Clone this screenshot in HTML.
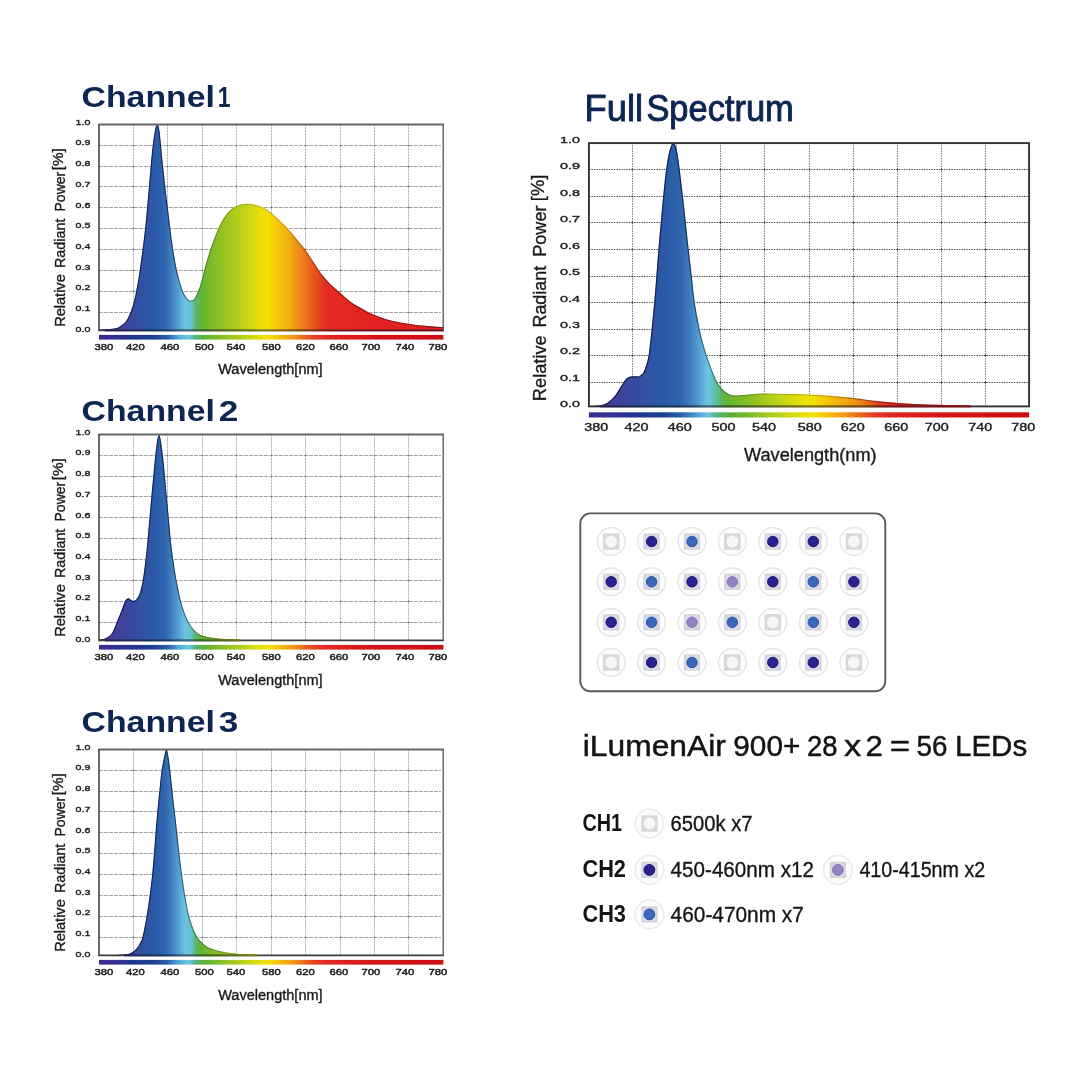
<!DOCTYPE html>
<html lang="en">
<head>
<meta charset="utf-8">
<title>iLumenAir 900+ Spectrum</title>
<style>
html,body{margin:0;padding:0;background:#fff;}
body{width:1079px;height:1079px;overflow:hidden;position:relative;font-family:"Liberation Sans", sans-serif;}
svg{position:absolute;left:0;top:0;display:block;will-change:transform;}
svg text{font-family:"Liberation Sans", sans-serif;}
</style>
</head>
<body>
<svg width="1079" height="1079" viewBox="0 0 1079 1079">
<defs>
<linearGradient id="o1" gradientUnits="userSpaceOnUse" x1="99" y1="0" x2="443.4" y2="0"><stop offset="0" stop-color="#00001c" stop-opacity="0.62"/><stop offset="0.22" stop-color="#00001c" stop-opacity="0.6"/><stop offset="0.29" stop-color="#001018" stop-opacity="0.34"/><stop offset="0.4" stop-color="#101000" stop-opacity="0.2"/><stop offset="0.54" stop-color="#181000" stop-opacity="0.2"/><stop offset="0.64" stop-color="#200000" stop-opacity="0.42"/><stop offset="1" stop-color="#200000" stop-opacity="0.48"/></linearGradient>
<linearGradient id="g1" gradientUnits="userSpaceOnUse" x1="99" y1="0" x2="443.4" y2="0"><stop offset="0" stop-color="#473a92"/><stop offset="0.05" stop-color="#41409b"/><stop offset="0.09" stop-color="#39479f"/><stop offset="0.12" stop-color="#3251a2"/><stop offset="0.16" stop-color="#2a59a7"/><stop offset="0.19" stop-color="#2f64ae"/><stop offset="0.21" stop-color="#3f7dbf"/><stop offset="0.23" stop-color="#539fd3"/><stop offset="0.25" stop-color="#6cc3e4"/><stop offset="0.27" stop-color="#63c3c4"/><stop offset="0.28" stop-color="#58b86a"/><stop offset="0.3" stop-color="#62b432"/><stop offset="0.32" stop-color="#76ba29"/><stop offset="0.35" stop-color="#8cc024"/><stop offset="0.4" stop-color="#b0cd1c"/><stop offset="0.44" stop-color="#cfd914"/><stop offset="0.47" stop-color="#ebe00a"/><stop offset="0.49" stop-color="#f5e105"/><stop offset="0.52" stop-color="#f5c50a"/><stop offset="0.55" stop-color="#f2b00e"/><stop offset="0.57" stop-color="#ee9914"/><stop offset="0.59" stop-color="#eb8018"/><stop offset="0.61" stop-color="#e8661c"/><stop offset="0.64" stop-color="#e5421f"/><stop offset="0.66" stop-color="#e42a22"/><stop offset="0.8" stop-color="#e22222"/><stop offset="1" stop-color="#df2020"/></linearGradient>
<linearGradient id="b1" gradientUnits="userSpaceOnUse" x1="99" y1="0" x2="443.4" y2="0"><stop offset="0" stop-color="#3c2b8e"/><stop offset="0.05" stop-color="#313092"/><stop offset="0.1" stop-color="#213590"/><stop offset="0.16" stop-color="#1b4193"/><stop offset="0.2" stop-color="#2a60ac"/><stop offset="0.23" stop-color="#52a4d6"/><stop offset="0.26" stop-color="#6cc6e2"/><stop offset="0.28" stop-color="#52b584"/><stop offset="0.3" stop-color="#58b034"/><stop offset="0.34" stop-color="#78ba28"/><stop offset="0.4" stop-color="#aaca1e"/><stop offset="0.46" stop-color="#dcdc10"/><stop offset="0.49" stop-color="#f4e208"/><stop offset="0.52" stop-color="#f6c20c"/><stop offset="0.56" stop-color="#f09c14"/><stop offset="0.59" stop-color="#ea721a"/><stop offset="0.62" stop-color="#e54420"/><stop offset="0.67" stop-color="#e22622"/><stop offset="0.8" stop-color="#d41418"/><stop offset="1" stop-color="#cc0e14"/></linearGradient>
<linearGradient id="o2" gradientUnits="userSpaceOnUse" x1="99" y1="0" x2="443.4" y2="0"><stop offset="0" stop-color="#00001c" stop-opacity="0.62"/><stop offset="0.22" stop-color="#00001c" stop-opacity="0.6"/><stop offset="0.29" stop-color="#001018" stop-opacity="0.34"/><stop offset="0.4" stop-color="#101000" stop-opacity="0.2"/><stop offset="0.54" stop-color="#181000" stop-opacity="0.2"/><stop offset="0.64" stop-color="#200000" stop-opacity="0.42"/><stop offset="1" stop-color="#200000" stop-opacity="0.48"/></linearGradient>
<linearGradient id="g2" gradientUnits="userSpaceOnUse" x1="99" y1="0" x2="443.4" y2="0"><stop offset="0" stop-color="#473a92"/><stop offset="0.05" stop-color="#41409b"/><stop offset="0.09" stop-color="#39479f"/><stop offset="0.12" stop-color="#3251a2"/><stop offset="0.16" stop-color="#2a59a7"/><stop offset="0.19" stop-color="#2f64ae"/><stop offset="0.21" stop-color="#3f7dbf"/><stop offset="0.23" stop-color="#539fd3"/><stop offset="0.25" stop-color="#6cc3e4"/><stop offset="0.27" stop-color="#63c3c4"/><stop offset="0.28" stop-color="#58b86a"/><stop offset="0.3" stop-color="#62b432"/><stop offset="0.32" stop-color="#76ba29"/><stop offset="0.35" stop-color="#8cc024"/><stop offset="0.4" stop-color="#b0cd1c"/><stop offset="0.44" stop-color="#cfd914"/><stop offset="0.47" stop-color="#ebe00a"/><stop offset="0.49" stop-color="#f5e105"/><stop offset="0.52" stop-color="#f5c50a"/><stop offset="0.55" stop-color="#f2b00e"/><stop offset="0.57" stop-color="#ee9914"/><stop offset="0.59" stop-color="#eb8018"/><stop offset="0.61" stop-color="#e8661c"/><stop offset="0.64" stop-color="#e5421f"/><stop offset="0.66" stop-color="#e42a22"/><stop offset="0.8" stop-color="#e22222"/><stop offset="1" stop-color="#df2020"/></linearGradient>
<linearGradient id="b2" gradientUnits="userSpaceOnUse" x1="99" y1="0" x2="443.4" y2="0"><stop offset="0" stop-color="#3c2b8e"/><stop offset="0.05" stop-color="#313092"/><stop offset="0.1" stop-color="#213590"/><stop offset="0.16" stop-color="#1b4193"/><stop offset="0.2" stop-color="#2a60ac"/><stop offset="0.23" stop-color="#52a4d6"/><stop offset="0.26" stop-color="#6cc6e2"/><stop offset="0.28" stop-color="#52b584"/><stop offset="0.3" stop-color="#58b034"/><stop offset="0.34" stop-color="#78ba28"/><stop offset="0.4" stop-color="#aaca1e"/><stop offset="0.46" stop-color="#dcdc10"/><stop offset="0.49" stop-color="#f4e208"/><stop offset="0.52" stop-color="#f6c20c"/><stop offset="0.56" stop-color="#f09c14"/><stop offset="0.59" stop-color="#ea721a"/><stop offset="0.62" stop-color="#e54420"/><stop offset="0.67" stop-color="#e22622"/><stop offset="0.8" stop-color="#d41418"/><stop offset="1" stop-color="#cc0e14"/></linearGradient>
<linearGradient id="o3" gradientUnits="userSpaceOnUse" x1="99" y1="0" x2="443.4" y2="0"><stop offset="0" stop-color="#00001c" stop-opacity="0.62"/><stop offset="0.22" stop-color="#00001c" stop-opacity="0.6"/><stop offset="0.29" stop-color="#001018" stop-opacity="0.34"/><stop offset="0.4" stop-color="#101000" stop-opacity="0.2"/><stop offset="0.54" stop-color="#181000" stop-opacity="0.2"/><stop offset="0.64" stop-color="#200000" stop-opacity="0.42"/><stop offset="1" stop-color="#200000" stop-opacity="0.48"/></linearGradient>
<linearGradient id="g3" gradientUnits="userSpaceOnUse" x1="99" y1="0" x2="443.4" y2="0"><stop offset="0" stop-color="#473a92"/><stop offset="0.05" stop-color="#41409b"/><stop offset="0.09" stop-color="#39479f"/><stop offset="0.12" stop-color="#3251a2"/><stop offset="0.16" stop-color="#2a59a7"/><stop offset="0.19" stop-color="#2f64ae"/><stop offset="0.21" stop-color="#3f7dbf"/><stop offset="0.23" stop-color="#539fd3"/><stop offset="0.25" stop-color="#6cc3e4"/><stop offset="0.27" stop-color="#63c3c4"/><stop offset="0.28" stop-color="#58b86a"/><stop offset="0.3" stop-color="#62b432"/><stop offset="0.32" stop-color="#76ba29"/><stop offset="0.35" stop-color="#8cc024"/><stop offset="0.4" stop-color="#b0cd1c"/><stop offset="0.44" stop-color="#cfd914"/><stop offset="0.47" stop-color="#ebe00a"/><stop offset="0.49" stop-color="#f5e105"/><stop offset="0.52" stop-color="#f5c50a"/><stop offset="0.55" stop-color="#f2b00e"/><stop offset="0.57" stop-color="#ee9914"/><stop offset="0.59" stop-color="#eb8018"/><stop offset="0.61" stop-color="#e8661c"/><stop offset="0.64" stop-color="#e5421f"/><stop offset="0.66" stop-color="#e42a22"/><stop offset="0.8" stop-color="#e22222"/><stop offset="1" stop-color="#df2020"/></linearGradient>
<linearGradient id="b3" gradientUnits="userSpaceOnUse" x1="99" y1="0" x2="443.4" y2="0"><stop offset="0" stop-color="#3c2b8e"/><stop offset="0.05" stop-color="#313092"/><stop offset="0.1" stop-color="#213590"/><stop offset="0.16" stop-color="#1b4193"/><stop offset="0.2" stop-color="#2a60ac"/><stop offset="0.23" stop-color="#52a4d6"/><stop offset="0.26" stop-color="#6cc6e2"/><stop offset="0.28" stop-color="#52b584"/><stop offset="0.3" stop-color="#58b034"/><stop offset="0.34" stop-color="#78ba28"/><stop offset="0.4" stop-color="#aaca1e"/><stop offset="0.46" stop-color="#dcdc10"/><stop offset="0.49" stop-color="#f4e208"/><stop offset="0.52" stop-color="#f6c20c"/><stop offset="0.56" stop-color="#f09c14"/><stop offset="0.59" stop-color="#ea721a"/><stop offset="0.62" stop-color="#e54420"/><stop offset="0.67" stop-color="#e22622"/><stop offset="0.8" stop-color="#d41418"/><stop offset="1" stop-color="#cc0e14"/></linearGradient>
<linearGradient id="oF" gradientUnits="userSpaceOnUse" x1="588.9" y1="0" x2="1029.1" y2="0"><stop offset="0" stop-color="#00001c" stop-opacity="0.62"/><stop offset="0.22" stop-color="#00001c" stop-opacity="0.6"/><stop offset="0.29" stop-color="#001018" stop-opacity="0.34"/><stop offset="0.4" stop-color="#101000" stop-opacity="0.2"/><stop offset="0.54" stop-color="#181000" stop-opacity="0.2"/><stop offset="0.64" stop-color="#200000" stop-opacity="0.42"/><stop offset="1" stop-color="#200000" stop-opacity="0.48"/></linearGradient>
<linearGradient id="gF" gradientUnits="userSpaceOnUse" x1="588.9" y1="0" x2="1029.1" y2="0"><stop offset="0" stop-color="#473a92"/><stop offset="0.05" stop-color="#41409b"/><stop offset="0.09" stop-color="#39479f"/><stop offset="0.13" stop-color="#3251a2"/><stop offset="0.17" stop-color="#2a59a7"/><stop offset="0.21" stop-color="#2f64ae"/><stop offset="0.23" stop-color="#3f7dbf"/><stop offset="0.25" stop-color="#539fd3"/><stop offset="0.27" stop-color="#6cc3e4"/><stop offset="0.28" stop-color="#63c3c4"/><stop offset="0.3" stop-color="#58b86a"/><stop offset="0.31" stop-color="#62b432"/><stop offset="0.34" stop-color="#76ba29"/><stop offset="0.37" stop-color="#8cc024"/><stop offset="0.41" stop-color="#b0cd1c"/><stop offset="0.45" stop-color="#cfd914"/><stop offset="0.49" stop-color="#ebe00a"/><stop offset="0.51" stop-color="#f5e105"/><stop offset="0.54" stop-color="#f5c50a"/><stop offset="0.57" stop-color="#f2b00e"/><stop offset="0.6" stop-color="#ee9914"/><stop offset="0.62" stop-color="#eb8018"/><stop offset="0.64" stop-color="#e8661c"/><stop offset="0.66" stop-color="#e5421f"/><stop offset="0.69" stop-color="#e42a22"/><stop offset="0.81" stop-color="#e22222"/><stop offset="1" stop-color="#df2020"/></linearGradient>
<linearGradient id="bF" gradientUnits="userSpaceOnUse" x1="588.9" y1="0" x2="1029.1" y2="0"><stop offset="0" stop-color="#3c2b8e"/><stop offset="0.05" stop-color="#313092"/><stop offset="0.11" stop-color="#213590"/><stop offset="0.17" stop-color="#1b4193"/><stop offset="0.21" stop-color="#2a60ac"/><stop offset="0.25" stop-color="#52a4d6"/><stop offset="0.27" stop-color="#6cc6e2"/><stop offset="0.29" stop-color="#52b584"/><stop offset="0.32" stop-color="#58b034"/><stop offset="0.36" stop-color="#78ba28"/><stop offset="0.41" stop-color="#aaca1e"/><stop offset="0.47" stop-color="#dcdc10"/><stop offset="0.51" stop-color="#f4e208"/><stop offset="0.54" stop-color="#f6c20c"/><stop offset="0.58" stop-color="#f09c14"/><stop offset="0.61" stop-color="#ea721a"/><stop offset="0.64" stop-color="#e54420"/><stop offset="0.68" stop-color="#e22622"/><stop offset="0.81" stop-color="#d41418"/><stop offset="1" stop-color="#cc0e14"/></linearGradient>
</defs>
<text x="81.6" y="107.4" font-size="29.2" font-weight="bold" textLength="133.2" lengthAdjust="spacingAndGlyphs" fill="#0d2553">Channel</text>
<text x="217.7" y="107.4" font-size="29.2" font-weight="bold" textLength="12.8" lengthAdjust="spacingAndGlyphs" fill="#0d2553">1</text>
<g id="chart-1">
<path d="M133.5 124.4 V330.4M167.5 124.4 V330.4M202.5 124.4 V330.4M236.5 124.4 V330.4M271.5 124.4 V330.4M305.5 124.4 V330.4M340.5 124.4 V330.4M374.5 124.4 V330.4M408.5 124.4 V330.4" fill="none" stroke="#adadad" stroke-width="1" stroke-dasharray="2 1"/>
<path d="M99 145.5 H440.9M99 166.5 H440.9M99 186.5 H440.9M99 207.5 H440.9M99 228.5 H440.9M99 249.5 H440.9M99 270.5 H440.9M99 291.5 H440.9M99 312.5 H440.9" fill="none" stroke="#a4a4a4" stroke-width="1" stroke-dasharray="4 1"/>
<path d="M133.5 145.5h0M133.5 166.5h0M133.5 186.5h0M133.5 207.5h0M133.5 228.5h0M133.5 249.5h0M133.5 270.5h0M133.5 291.5h0M133.5 312.5h0M167.5 145.5h0M167.5 166.5h0M167.5 186.5h0M167.5 207.5h0M167.5 228.5h0M167.5 249.5h0M167.5 270.5h0M167.5 291.5h0M167.5 312.5h0M202.5 145.5h0M202.5 166.5h0M202.5 186.5h0M202.5 207.5h0M202.5 228.5h0M202.5 249.5h0M202.5 270.5h0M202.5 291.5h0M202.5 312.5h0M236.5 145.5h0M236.5 166.5h0M236.5 186.5h0M236.5 207.5h0M236.5 228.5h0M236.5 249.5h0M236.5 270.5h0M236.5 291.5h0M236.5 312.5h0M271.5 145.5h0M271.5 166.5h0M271.5 186.5h0M271.5 207.5h0M271.5 228.5h0M271.5 249.5h0M271.5 270.5h0M271.5 291.5h0M271.5 312.5h0M305.5 145.5h0M305.5 166.5h0M305.5 186.5h0M305.5 207.5h0M305.5 228.5h0M305.5 249.5h0M305.5 270.5h0M305.5 291.5h0M305.5 312.5h0M340.5 145.5h0M340.5 166.5h0M340.5 186.5h0M340.5 207.5h0M340.5 228.5h0M340.5 249.5h0M340.5 270.5h0M340.5 291.5h0M340.5 312.5h0M374.5 145.5h0M374.5 166.5h0M374.5 186.5h0M374.5 207.5h0M374.5 228.5h0M374.5 249.5h0M374.5 270.5h0M374.5 291.5h0M374.5 312.5h0M408.5 145.5h0M408.5 166.5h0M408.5 186.5h0M408.5 207.5h0M408.5 228.5h0M408.5 249.5h0M408.5 270.5h0M408.5 291.5h0M408.5 312.5h0" fill="none" stroke="#707070" stroke-width="1.5" stroke-linecap="round"/>
<path d="M99 330.2C100.83 330.1 106.85 329.93 110 329.6C113.15 329.27 115.73 328.97 117.9 328.2C120.07 327.43 121.33 326.5 123 325C124.67 323.5 126.15 322.48 127.9 319.2C129.65 315.92 131.83 310.93 133.5 305.3C135.17 299.67 136.52 293.03 137.9 285.4C139.28 277.77 140.48 269.13 141.8 259.5C143.12 249.87 144.53 239.57 145.8 227.6C147.07 215.63 148.23 200.65 149.4 187.7C150.57 174.75 151.8 159.35 152.8 149.9C153.8 140.45 154.67 135.15 155.4 131C156.13 126.85 156.6 124.92 157.2 125C157.8 125.08 158.23 125.7 159 131.5C159.77 137.3 160.83 150.43 161.8 159.8C162.77 169.17 163.73 178.4 164.8 187.7C165.87 197 167.05 206.3 168.2 215.6C169.35 224.9 170.45 234.87 171.7 243.5C172.95 252.13 174.37 260.75 175.7 267.4C177.03 274.05 178.37 278.92 179.7 283.4C181.03 287.88 182.37 291.55 183.7 294.3C185.03 297.05 186.53 298.73 187.7 299.9C188.87 301.07 189.53 301.4 190.7 301.3C191.87 301.2 193.37 300.97 194.7 299.3C196.03 297.63 197.48 294.28 198.7 291.3C199.92 288.32 200.68 286.03 202 281.4C203.32 276.77 205 269.15 206.6 263.5C208.2 257.85 209.77 252.82 211.6 247.5C213.43 242.18 215.6 236.25 217.6 231.6C219.6 226.95 221.62 222.93 223.6 219.6C225.58 216.27 227.18 213.85 229.5 211.6C231.82 209.35 234.5 207.32 237.5 206.1C240.5 204.88 244.17 204.3 247.5 204.3C250.83 204.3 254.18 205.03 257.5 206.1C260.82 207.17 263.98 208.45 267.4 210.7C270.82 212.95 274.58 216.45 278 219.6C281.42 222.75 284.58 225.95 287.9 229.6C291.22 233.25 294.9 237.85 297.9 241.5C300.9 245.15 303.25 247.83 305.9 251.5C308.55 255.17 311.15 259.52 313.8 263.5C316.45 267.48 319.13 271.92 321.8 275.4C324.47 278.88 326.8 281.42 329.8 284.4C332.8 287.38 336.15 290.15 339.8 293.3C343.45 296.45 347.72 300.47 351.7 303.3C355.68 306.13 360.05 308.3 363.7 310.3C367.35 312.3 369.62 313.65 373.6 315.3C377.58 316.95 381.95 318.72 387.6 320.2C393.25 321.68 400.85 323.13 407.5 324.2C414.15 325.27 421.52 326.03 427.5 326.6C433.48 327.17 440.75 327.43 443.4 327.6 L443.4 330.4 L99 330.4 Z" fill="url(#g1)"/>
<path d="M99 330.2C100.83 330.1 106.85 329.93 110 329.6C113.15 329.27 115.73 328.97 117.9 328.2C120.07 327.43 121.33 326.5 123 325C124.67 323.5 126.15 322.48 127.9 319.2C129.65 315.92 131.83 310.93 133.5 305.3C135.17 299.67 136.52 293.03 137.9 285.4C139.28 277.77 140.48 269.13 141.8 259.5C143.12 249.87 144.53 239.57 145.8 227.6C147.07 215.63 148.23 200.65 149.4 187.7C150.57 174.75 151.8 159.35 152.8 149.9C153.8 140.45 154.67 135.15 155.4 131C156.13 126.85 156.6 124.92 157.2 125C157.8 125.08 158.23 125.7 159 131.5C159.77 137.3 160.83 150.43 161.8 159.8C162.77 169.17 163.73 178.4 164.8 187.7C165.87 197 167.05 206.3 168.2 215.6C169.35 224.9 170.45 234.87 171.7 243.5C172.95 252.13 174.37 260.75 175.7 267.4C177.03 274.05 178.37 278.92 179.7 283.4C181.03 287.88 182.37 291.55 183.7 294.3C185.03 297.05 186.53 298.73 187.7 299.9C188.87 301.07 189.53 301.4 190.7 301.3C191.87 301.2 193.37 300.97 194.7 299.3C196.03 297.63 197.48 294.28 198.7 291.3C199.92 288.32 200.68 286.03 202 281.4C203.32 276.77 205 269.15 206.6 263.5C208.2 257.85 209.77 252.82 211.6 247.5C213.43 242.18 215.6 236.25 217.6 231.6C219.6 226.95 221.62 222.93 223.6 219.6C225.58 216.27 227.18 213.85 229.5 211.6C231.82 209.35 234.5 207.32 237.5 206.1C240.5 204.88 244.17 204.3 247.5 204.3C250.83 204.3 254.18 205.03 257.5 206.1C260.82 207.17 263.98 208.45 267.4 210.7C270.82 212.95 274.58 216.45 278 219.6C281.42 222.75 284.58 225.95 287.9 229.6C291.22 233.25 294.9 237.85 297.9 241.5C300.9 245.15 303.25 247.83 305.9 251.5C308.55 255.17 311.15 259.52 313.8 263.5C316.45 267.48 319.13 271.92 321.8 275.4C324.47 278.88 326.8 281.42 329.8 284.4C332.8 287.38 336.15 290.15 339.8 293.3C343.45 296.45 347.72 300.47 351.7 303.3C355.68 306.13 360.05 308.3 363.7 310.3C367.35 312.3 369.62 313.65 373.6 315.3C377.58 316.95 381.95 318.72 387.6 320.2C393.25 321.68 400.85 323.13 407.5 324.2C414.15 325.27 421.52 326.03 427.5 326.6C433.48 327.17 440.75 327.43 443.4 327.6" fill="none" stroke="url(#g1)" stroke-width="1.1"/>
<path d="M99 330.2C100.83 330.1 106.85 329.93 110 329.6C113.15 329.27 115.73 328.97 117.9 328.2C120.07 327.43 121.33 326.5 123 325C124.67 323.5 126.15 322.48 127.9 319.2C129.65 315.92 131.83 310.93 133.5 305.3C135.17 299.67 136.52 293.03 137.9 285.4C139.28 277.77 140.48 269.13 141.8 259.5C143.12 249.87 144.53 239.57 145.8 227.6C147.07 215.63 148.23 200.65 149.4 187.7C150.57 174.75 151.8 159.35 152.8 149.9C153.8 140.45 154.67 135.15 155.4 131C156.13 126.85 156.6 124.92 157.2 125C157.8 125.08 158.23 125.7 159 131.5C159.77 137.3 160.83 150.43 161.8 159.8C162.77 169.17 163.73 178.4 164.8 187.7C165.87 197 167.05 206.3 168.2 215.6C169.35 224.9 170.45 234.87 171.7 243.5C172.95 252.13 174.37 260.75 175.7 267.4C177.03 274.05 178.37 278.92 179.7 283.4C181.03 287.88 182.37 291.55 183.7 294.3C185.03 297.05 186.53 298.73 187.7 299.9C188.87 301.07 189.53 301.4 190.7 301.3C191.87 301.2 193.37 300.97 194.7 299.3C196.03 297.63 197.48 294.28 198.7 291.3C199.92 288.32 200.68 286.03 202 281.4C203.32 276.77 205 269.15 206.6 263.5C208.2 257.85 209.77 252.82 211.6 247.5C213.43 242.18 215.6 236.25 217.6 231.6C219.6 226.95 221.62 222.93 223.6 219.6C225.58 216.27 227.18 213.85 229.5 211.6C231.82 209.35 234.5 207.32 237.5 206.1C240.5 204.88 244.17 204.3 247.5 204.3C250.83 204.3 254.18 205.03 257.5 206.1C260.82 207.17 263.98 208.45 267.4 210.7C270.82 212.95 274.58 216.45 278 219.6C281.42 222.75 284.58 225.95 287.9 229.6C291.22 233.25 294.9 237.85 297.9 241.5C300.9 245.15 303.25 247.83 305.9 251.5C308.55 255.17 311.15 259.52 313.8 263.5C316.45 267.48 319.13 271.92 321.8 275.4C324.47 278.88 326.8 281.42 329.8 284.4C332.8 287.38 336.15 290.15 339.8 293.3C343.45 296.45 347.72 300.47 351.7 303.3C355.68 306.13 360.05 308.3 363.7 310.3C367.35 312.3 369.62 313.65 373.6 315.3C377.58 316.95 381.95 318.72 387.6 320.2C393.25 321.68 400.85 323.13 407.5 324.2C414.15 325.27 421.52 326.03 427.5 326.6C433.48 327.17 440.75 327.43 443.4 327.6" fill="none" stroke="url(#o1)" stroke-width="1.1"/>
<path d="M98.25 124.4H443.9" fill="none" stroke="#666" stroke-width="2"/>
<path d="M99 124.4V330.4" fill="none" stroke="#3a3a3a" stroke-width="1.5"/>
<path d="M98.25 330.4H443.9" fill="none" stroke="#3c3c3c" stroke-width="1.9"/>
<path d="M443.2 124.4V330.4" fill="none" stroke="#555" stroke-width="1.3"/>
<path d="M105 330.4H443.4" fill="none" stroke="url(#g1)" stroke-width="1.9"/>
<path d="M105 330.4H443.4" fill="none" stroke="#000010" stroke-opacity="0.45" stroke-width="1.9"/>
<rect x="99" y="334.9" width="344.4" height="4.7" fill="url(#b1)"/>
<text x="104" y="350" font-size="8.8" text-anchor="middle" textLength="18.8" lengthAdjust="spacingAndGlyphs" fill="#1c1c1c" stroke="#1c1c1c" stroke-width="0.45" stroke-linejoin="round">380</text>
<text x="135.5" y="350" font-size="8.8" text-anchor="middle" textLength="18.8" lengthAdjust="spacingAndGlyphs" fill="#1c1c1c" stroke="#1c1c1c" stroke-width="0.45" stroke-linejoin="round">420</text>
<text x="170" y="350" font-size="8.8" text-anchor="middle" textLength="18.8" lengthAdjust="spacingAndGlyphs" fill="#1c1c1c" stroke="#1c1c1c" stroke-width="0.45" stroke-linejoin="round">460</text>
<text x="204.5" y="350" font-size="8.8" text-anchor="middle" textLength="18.8" lengthAdjust="spacingAndGlyphs" fill="#1c1c1c" stroke="#1c1c1c" stroke-width="0.45" stroke-linejoin="round">500</text>
<text x="236" y="350" font-size="8.8" text-anchor="middle" textLength="18.8" lengthAdjust="spacingAndGlyphs" fill="#1c1c1c" stroke="#1c1c1c" stroke-width="0.45" stroke-linejoin="round">540</text>
<text x="271.5" y="350" font-size="8.8" text-anchor="middle" textLength="18.8" lengthAdjust="spacingAndGlyphs" fill="#1c1c1c" stroke="#1c1c1c" stroke-width="0.45" stroke-linejoin="round">580</text>
<text x="305.4" y="350" font-size="8.8" text-anchor="middle" textLength="18.8" lengthAdjust="spacingAndGlyphs" fill="#1c1c1c" stroke="#1c1c1c" stroke-width="0.45" stroke-linejoin="round">620</text>
<text x="339" y="350" font-size="8.8" text-anchor="middle" textLength="18.8" lengthAdjust="spacingAndGlyphs" fill="#1c1c1c" stroke="#1c1c1c" stroke-width="0.45" stroke-linejoin="round">660</text>
<text x="371" y="350" font-size="8.8" text-anchor="middle" textLength="18.8" lengthAdjust="spacingAndGlyphs" fill="#1c1c1c" stroke="#1c1c1c" stroke-width="0.45" stroke-linejoin="round">700</text>
<text x="405" y="350" font-size="8.8" text-anchor="middle" textLength="18.8" lengthAdjust="spacingAndGlyphs" fill="#1c1c1c" stroke="#1c1c1c" stroke-width="0.45" stroke-linejoin="round">740</text>
<text x="438" y="350" font-size="8.8" text-anchor="middle" textLength="18.8" lengthAdjust="spacingAndGlyphs" fill="#1c1c1c" stroke="#1c1c1c" stroke-width="0.45" stroke-linejoin="round">780</text>
<text x="75.6" y="124.7" font-size="7.2" textLength="14.8" lengthAdjust="spacingAndGlyphs" fill="#1c1c1c" stroke="#1c1c1c" stroke-width="0.35" stroke-linejoin="round">1.0</text>
<text x="75.6" y="145.4" font-size="7.2" textLength="14.8" lengthAdjust="spacingAndGlyphs" fill="#1c1c1c" stroke="#1c1c1c" stroke-width="0.35" stroke-linejoin="round">0.9</text>
<text x="75.6" y="166.1" font-size="7.2" textLength="14.8" lengthAdjust="spacingAndGlyphs" fill="#1c1c1c" stroke="#1c1c1c" stroke-width="0.35" stroke-linejoin="round">0.8</text>
<text x="75.6" y="186.8" font-size="7.2" textLength="14.8" lengthAdjust="spacingAndGlyphs" fill="#1c1c1c" stroke="#1c1c1c" stroke-width="0.35" stroke-linejoin="round">0.7</text>
<text x="75.6" y="207.5" font-size="7.2" textLength="14.8" lengthAdjust="spacingAndGlyphs" fill="#1c1c1c" stroke="#1c1c1c" stroke-width="0.35" stroke-linejoin="round">0.6</text>
<text x="75.6" y="228.2" font-size="7.2" textLength="14.8" lengthAdjust="spacingAndGlyphs" fill="#1c1c1c" stroke="#1c1c1c" stroke-width="0.35" stroke-linejoin="round">0.5</text>
<text x="75.6" y="248.9" font-size="7.2" textLength="14.8" lengthAdjust="spacingAndGlyphs" fill="#1c1c1c" stroke="#1c1c1c" stroke-width="0.35" stroke-linejoin="round">0.4</text>
<text x="75.6" y="269.6" font-size="7.2" textLength="14.8" lengthAdjust="spacingAndGlyphs" fill="#1c1c1c" stroke="#1c1c1c" stroke-width="0.35" stroke-linejoin="round">0.3</text>
<text x="75.6" y="290.3" font-size="7.2" textLength="14.8" lengthAdjust="spacingAndGlyphs" fill="#1c1c1c" stroke="#1c1c1c" stroke-width="0.35" stroke-linejoin="round">0.2</text>
<text x="75.6" y="311" font-size="7.2" textLength="14.8" lengthAdjust="spacingAndGlyphs" fill="#1c1c1c" stroke="#1c1c1c" stroke-width="0.35" stroke-linejoin="round">0.1</text>
<text x="75.6" y="331.7" font-size="7.2" textLength="14.8" lengthAdjust="spacingAndGlyphs" fill="#1c1c1c" stroke="#1c1c1c" stroke-width="0.35" stroke-linejoin="round">0.0</text>
<text transform="translate(64.7 326.87) rotate(-90)" font-size="14.2" textLength="52.63" lengthAdjust="spacingAndGlyphs" fill="#1a1a1a" stroke="#1a1a1a" stroke-width="0.35">Relative</text>
<text transform="translate(64.7 268.06) rotate(-90)" font-size="14.2" textLength="49.43" lengthAdjust="spacingAndGlyphs" fill="#1a1a1a" stroke="#1a1a1a" stroke-width="0.35">Radiant</text>
<text transform="translate(64.7 211.47) rotate(-90)" font-size="14.2" textLength="39.63" lengthAdjust="spacingAndGlyphs" fill="#1a1a1a" stroke="#1a1a1a" stroke-width="0.35">Power</text>
<text transform="translate(63 170.26) rotate(-90)" font-size="14.2" textLength="22.03" lengthAdjust="spacingAndGlyphs" fill="#1a1a1a" stroke="#1a1a1a" stroke-width="0.35">[%]</text>
<text x="218.2" y="373.5" font-size="14" textLength="104.4" lengthAdjust="spacingAndGlyphs" fill="#1a1a1a" stroke="#1a1a1a" stroke-width="0.35" stroke-linejoin="round">Wavelength[nm]</text>
</g>
<text x="81.6" y="421.2" font-size="29.2" font-weight="bold" textLength="133.2" lengthAdjust="spacingAndGlyphs" fill="#0d2553">Channel</text>
<text x="218.8" y="421.2" font-size="29.2" font-weight="bold" textLength="19.6" lengthAdjust="spacingAndGlyphs" fill="#0d2553">2</text>
<g id="chart-2">
<path d="M133.5 434.4 V640.4M167.5 434.4 V640.4M202.5 434.4 V640.4M236.5 434.4 V640.4M271.5 434.4 V640.4M305.5 434.4 V640.4M340.5 434.4 V640.4M374.5 434.4 V640.4M408.5 434.4 V640.4" fill="none" stroke="#adadad" stroke-width="1" stroke-dasharray="2 1"/>
<path d="M99 455.5 H440.9M99 476.5 H440.9M99 496.5 H440.9M99 517.5 H440.9M99 538.5 H440.9M99 559.5 H440.9M99 580.5 H440.9M99 601.5 H440.9M99 622.5 H440.9" fill="none" stroke="#a4a4a4" stroke-width="1" stroke-dasharray="4 1"/>
<path d="M133.5 455.5h0M133.5 476.5h0M133.5 496.5h0M133.5 517.5h0M133.5 538.5h0M133.5 559.5h0M133.5 580.5h0M133.5 601.5h0M133.5 622.5h0M167.5 455.5h0M167.5 476.5h0M167.5 496.5h0M167.5 517.5h0M167.5 538.5h0M167.5 559.5h0M167.5 580.5h0M167.5 601.5h0M167.5 622.5h0M202.5 455.5h0M202.5 476.5h0M202.5 496.5h0M202.5 517.5h0M202.5 538.5h0M202.5 559.5h0M202.5 580.5h0M202.5 601.5h0M202.5 622.5h0M236.5 455.5h0M236.5 476.5h0M236.5 496.5h0M236.5 517.5h0M236.5 538.5h0M236.5 559.5h0M236.5 580.5h0M236.5 601.5h0M236.5 622.5h0M271.5 455.5h0M271.5 476.5h0M271.5 496.5h0M271.5 517.5h0M271.5 538.5h0M271.5 559.5h0M271.5 580.5h0M271.5 601.5h0M271.5 622.5h0M305.5 455.5h0M305.5 476.5h0M305.5 496.5h0M305.5 517.5h0M305.5 538.5h0M305.5 559.5h0M305.5 580.5h0M305.5 601.5h0M305.5 622.5h0M340.5 455.5h0M340.5 476.5h0M340.5 496.5h0M340.5 517.5h0M340.5 538.5h0M340.5 559.5h0M340.5 580.5h0M340.5 601.5h0M340.5 622.5h0M374.5 455.5h0M374.5 476.5h0M374.5 496.5h0M374.5 517.5h0M374.5 538.5h0M374.5 559.5h0M374.5 580.5h0M374.5 601.5h0M374.5 622.5h0M408.5 455.5h0M408.5 476.5h0M408.5 496.5h0M408.5 517.5h0M408.5 538.5h0M408.5 559.5h0M408.5 580.5h0M408.5 601.5h0M408.5 622.5h0" fill="none" stroke="#707070" stroke-width="1.5" stroke-linecap="round"/>
<path d="M99 640.2C100.17 639.97 103.73 639.97 106 638.8C108.27 637.63 110.65 636.12 112.6 633.2C114.55 630.28 116.17 624.95 117.7 621.3C119.23 617.65 120.53 614.55 121.8 611.3C123.07 608.05 124.27 603.87 125.3 601.8C126.33 599.73 127.07 599.13 128 598.9C128.93 598.67 129.92 599.93 130.9 600.4C131.88 600.87 132.73 602.03 133.9 601.7C135.07 601.37 136.73 600.12 137.9 598.4C139.07 596.68 139.92 594.9 140.9 591.4C141.88 587.9 142.82 583.72 143.8 577.4C144.78 571.08 145.87 562.13 146.8 553.5C147.73 544.87 148.5 535.55 149.4 525.6C150.3 515.65 151.3 503.75 152.2 493.8C153.1 483.85 153.97 474.2 154.8 465.9C155.63 457.6 156.5 449.05 157.2 444C157.9 438.95 158.4 435.6 159 435.6C159.6 435.6 160.17 439.95 160.8 444C161.43 448.05 162.07 452.93 162.8 459.9C163.53 466.87 164.37 476.83 165.2 485.8C166.03 494.77 166.87 503.73 167.8 513.7C168.73 523.67 169.78 536.55 170.8 545.6C171.82 554.65 173.03 562.18 173.9 568C174.77 573.82 174.93 574.97 176 580.5C177.07 586.03 178.93 595.72 180.3 601.2C181.67 606.68 183 610.07 184.2 613.4C185.4 616.73 186.1 618.6 187.5 621.2C188.9 623.8 190.47 626.6 192.6 629C194.73 631.4 197.53 634.12 200.3 635.6C203.07 637.08 205.58 637.28 209.2 637.9C212.82 638.52 216.87 638.92 222 639.3C227.13 639.68 237 640.05 240 640.2 L240 640.4 L99 640.4 Z" fill="url(#g2)"/>
<path d="M99 640.2C100.17 639.97 103.73 639.97 106 638.8C108.27 637.63 110.65 636.12 112.6 633.2C114.55 630.28 116.17 624.95 117.7 621.3C119.23 617.65 120.53 614.55 121.8 611.3C123.07 608.05 124.27 603.87 125.3 601.8C126.33 599.73 127.07 599.13 128 598.9C128.93 598.67 129.92 599.93 130.9 600.4C131.88 600.87 132.73 602.03 133.9 601.7C135.07 601.37 136.73 600.12 137.9 598.4C139.07 596.68 139.92 594.9 140.9 591.4C141.88 587.9 142.82 583.72 143.8 577.4C144.78 571.08 145.87 562.13 146.8 553.5C147.73 544.87 148.5 535.55 149.4 525.6C150.3 515.65 151.3 503.75 152.2 493.8C153.1 483.85 153.97 474.2 154.8 465.9C155.63 457.6 156.5 449.05 157.2 444C157.9 438.95 158.4 435.6 159 435.6C159.6 435.6 160.17 439.95 160.8 444C161.43 448.05 162.07 452.93 162.8 459.9C163.53 466.87 164.37 476.83 165.2 485.8C166.03 494.77 166.87 503.73 167.8 513.7C168.73 523.67 169.78 536.55 170.8 545.6C171.82 554.65 173.03 562.18 173.9 568C174.77 573.82 174.93 574.97 176 580.5C177.07 586.03 178.93 595.72 180.3 601.2C181.67 606.68 183 610.07 184.2 613.4C185.4 616.73 186.1 618.6 187.5 621.2C188.9 623.8 190.47 626.6 192.6 629C194.73 631.4 197.53 634.12 200.3 635.6C203.07 637.08 205.58 637.28 209.2 637.9C212.82 638.52 216.87 638.92 222 639.3C227.13 639.68 237 640.05 240 640.2" fill="none" stroke="url(#g2)" stroke-width="1.1"/>
<path d="M99 640.2C100.17 639.97 103.73 639.97 106 638.8C108.27 637.63 110.65 636.12 112.6 633.2C114.55 630.28 116.17 624.95 117.7 621.3C119.23 617.65 120.53 614.55 121.8 611.3C123.07 608.05 124.27 603.87 125.3 601.8C126.33 599.73 127.07 599.13 128 598.9C128.93 598.67 129.92 599.93 130.9 600.4C131.88 600.87 132.73 602.03 133.9 601.7C135.07 601.37 136.73 600.12 137.9 598.4C139.07 596.68 139.92 594.9 140.9 591.4C141.88 587.9 142.82 583.72 143.8 577.4C144.78 571.08 145.87 562.13 146.8 553.5C147.73 544.87 148.5 535.55 149.4 525.6C150.3 515.65 151.3 503.75 152.2 493.8C153.1 483.85 153.97 474.2 154.8 465.9C155.63 457.6 156.5 449.05 157.2 444C157.9 438.95 158.4 435.6 159 435.6C159.6 435.6 160.17 439.95 160.8 444C161.43 448.05 162.07 452.93 162.8 459.9C163.53 466.87 164.37 476.83 165.2 485.8C166.03 494.77 166.87 503.73 167.8 513.7C168.73 523.67 169.78 536.55 170.8 545.6C171.82 554.65 173.03 562.18 173.9 568C174.77 573.82 174.93 574.97 176 580.5C177.07 586.03 178.93 595.72 180.3 601.2C181.67 606.68 183 610.07 184.2 613.4C185.4 616.73 186.1 618.6 187.5 621.2C188.9 623.8 190.47 626.6 192.6 629C194.73 631.4 197.53 634.12 200.3 635.6C203.07 637.08 205.58 637.28 209.2 637.9C212.82 638.52 216.87 638.92 222 639.3C227.13 639.68 237 640.05 240 640.2" fill="none" stroke="url(#o2)" stroke-width="1.1"/>
<path d="M98.25 434.4H443.9" fill="none" stroke="#666" stroke-width="2"/>
<path d="M99 434.4V640.4" fill="none" stroke="#3a3a3a" stroke-width="1.5"/>
<path d="M98.25 640.4H443.9" fill="none" stroke="#3c3c3c" stroke-width="1.9"/>
<path d="M443.2 434.4V640.4" fill="none" stroke="#555" stroke-width="1.3"/>
<path d="M105 640.4H240" fill="none" stroke="url(#g2)" stroke-width="1.9"/>
<path d="M105 640.4H240" fill="none" stroke="#000010" stroke-opacity="0.45" stroke-width="1.9"/>
<rect x="99" y="644.9" width="344.4" height="4.7" fill="url(#b2)"/>
<text x="104" y="660" font-size="8.8" text-anchor="middle" textLength="18.8" lengthAdjust="spacingAndGlyphs" fill="#1c1c1c" stroke="#1c1c1c" stroke-width="0.45" stroke-linejoin="round">380</text>
<text x="135.5" y="660" font-size="8.8" text-anchor="middle" textLength="18.8" lengthAdjust="spacingAndGlyphs" fill="#1c1c1c" stroke="#1c1c1c" stroke-width="0.45" stroke-linejoin="round">420</text>
<text x="170" y="660" font-size="8.8" text-anchor="middle" textLength="18.8" lengthAdjust="spacingAndGlyphs" fill="#1c1c1c" stroke="#1c1c1c" stroke-width="0.45" stroke-linejoin="round">460</text>
<text x="204.5" y="660" font-size="8.8" text-anchor="middle" textLength="18.8" lengthAdjust="spacingAndGlyphs" fill="#1c1c1c" stroke="#1c1c1c" stroke-width="0.45" stroke-linejoin="round">500</text>
<text x="236" y="660" font-size="8.8" text-anchor="middle" textLength="18.8" lengthAdjust="spacingAndGlyphs" fill="#1c1c1c" stroke="#1c1c1c" stroke-width="0.45" stroke-linejoin="round">540</text>
<text x="271.5" y="660" font-size="8.8" text-anchor="middle" textLength="18.8" lengthAdjust="spacingAndGlyphs" fill="#1c1c1c" stroke="#1c1c1c" stroke-width="0.45" stroke-linejoin="round">580</text>
<text x="305.4" y="660" font-size="8.8" text-anchor="middle" textLength="18.8" lengthAdjust="spacingAndGlyphs" fill="#1c1c1c" stroke="#1c1c1c" stroke-width="0.45" stroke-linejoin="round">620</text>
<text x="339" y="660" font-size="8.8" text-anchor="middle" textLength="18.8" lengthAdjust="spacingAndGlyphs" fill="#1c1c1c" stroke="#1c1c1c" stroke-width="0.45" stroke-linejoin="round">660</text>
<text x="371" y="660" font-size="8.8" text-anchor="middle" textLength="18.8" lengthAdjust="spacingAndGlyphs" fill="#1c1c1c" stroke="#1c1c1c" stroke-width="0.45" stroke-linejoin="round">700</text>
<text x="405" y="660" font-size="8.8" text-anchor="middle" textLength="18.8" lengthAdjust="spacingAndGlyphs" fill="#1c1c1c" stroke="#1c1c1c" stroke-width="0.45" stroke-linejoin="round">740</text>
<text x="438" y="660" font-size="8.8" text-anchor="middle" textLength="18.8" lengthAdjust="spacingAndGlyphs" fill="#1c1c1c" stroke="#1c1c1c" stroke-width="0.45" stroke-linejoin="round">780</text>
<text x="75.6" y="434.7" font-size="7.2" textLength="14.8" lengthAdjust="spacingAndGlyphs" fill="#1c1c1c" stroke="#1c1c1c" stroke-width="0.35" stroke-linejoin="round">1.0</text>
<text x="75.6" y="455.4" font-size="7.2" textLength="14.8" lengthAdjust="spacingAndGlyphs" fill="#1c1c1c" stroke="#1c1c1c" stroke-width="0.35" stroke-linejoin="round">0.9</text>
<text x="75.6" y="476.1" font-size="7.2" textLength="14.8" lengthAdjust="spacingAndGlyphs" fill="#1c1c1c" stroke="#1c1c1c" stroke-width="0.35" stroke-linejoin="round">0.8</text>
<text x="75.6" y="496.8" font-size="7.2" textLength="14.8" lengthAdjust="spacingAndGlyphs" fill="#1c1c1c" stroke="#1c1c1c" stroke-width="0.35" stroke-linejoin="round">0.7</text>
<text x="75.6" y="517.5" font-size="7.2" textLength="14.8" lengthAdjust="spacingAndGlyphs" fill="#1c1c1c" stroke="#1c1c1c" stroke-width="0.35" stroke-linejoin="round">0.6</text>
<text x="75.6" y="538.2" font-size="7.2" textLength="14.8" lengthAdjust="spacingAndGlyphs" fill="#1c1c1c" stroke="#1c1c1c" stroke-width="0.35" stroke-linejoin="round">0.5</text>
<text x="75.6" y="558.9" font-size="7.2" textLength="14.8" lengthAdjust="spacingAndGlyphs" fill="#1c1c1c" stroke="#1c1c1c" stroke-width="0.35" stroke-linejoin="round">0.4</text>
<text x="75.6" y="579.6" font-size="7.2" textLength="14.8" lengthAdjust="spacingAndGlyphs" fill="#1c1c1c" stroke="#1c1c1c" stroke-width="0.35" stroke-linejoin="round">0.3</text>
<text x="75.6" y="600.3" font-size="7.2" textLength="14.8" lengthAdjust="spacingAndGlyphs" fill="#1c1c1c" stroke="#1c1c1c" stroke-width="0.35" stroke-linejoin="round">0.2</text>
<text x="75.6" y="621" font-size="7.2" textLength="14.8" lengthAdjust="spacingAndGlyphs" fill="#1c1c1c" stroke="#1c1c1c" stroke-width="0.35" stroke-linejoin="round">0.1</text>
<text x="75.6" y="641.7" font-size="7.2" textLength="14.8" lengthAdjust="spacingAndGlyphs" fill="#1c1c1c" stroke="#1c1c1c" stroke-width="0.35" stroke-linejoin="round">0.0</text>
<text transform="translate(64.7 636.87) rotate(-90)" font-size="14.2" textLength="52.63" lengthAdjust="spacingAndGlyphs" fill="#1a1a1a" stroke="#1a1a1a" stroke-width="0.35">Relative</text>
<text transform="translate(64.7 578.07) rotate(-90)" font-size="14.2" textLength="49.43" lengthAdjust="spacingAndGlyphs" fill="#1a1a1a" stroke="#1a1a1a" stroke-width="0.35">Radiant</text>
<text transform="translate(64.7 521.47) rotate(-90)" font-size="14.2" textLength="39.63" lengthAdjust="spacingAndGlyphs" fill="#1a1a1a" stroke="#1a1a1a" stroke-width="0.35">Power</text>
<text transform="translate(63 480.26) rotate(-90)" font-size="14.2" textLength="22.03" lengthAdjust="spacingAndGlyphs" fill="#1a1a1a" stroke="#1a1a1a" stroke-width="0.35">[%]</text>
<text x="218.2" y="684.7" font-size="14" textLength="104.4" lengthAdjust="spacingAndGlyphs" fill="#1a1a1a" stroke="#1a1a1a" stroke-width="0.35" stroke-linejoin="round">Wavelength[nm]</text>
</g>
<text x="81.6" y="732.3" font-size="29.2" font-weight="bold" textLength="133.2" lengthAdjust="spacingAndGlyphs" fill="#0d2553">Channel</text>
<text x="218.8" y="732.3" font-size="29.2" font-weight="bold" textLength="19.6" lengthAdjust="spacingAndGlyphs" fill="#0d2553">3</text>
<g id="chart-3">
<path d="M133.5 749.4 V955.4M167.5 749.4 V955.4M202.5 749.4 V955.4M236.5 749.4 V955.4M271.5 749.4 V955.4M305.5 749.4 V955.4M340.5 749.4 V955.4M374.5 749.4 V955.4M408.5 749.4 V955.4" fill="none" stroke="#adadad" stroke-width="1" stroke-dasharray="2 1"/>
<path d="M99 770.5 H440.9M99 791.5 H440.9M99 811.5 H440.9M99 832.5 H440.9M99 853.5 H440.9M99 874.5 H440.9M99 895.5 H440.9M99 916.5 H440.9M99 937.5 H440.9" fill="none" stroke="#a4a4a4" stroke-width="1" stroke-dasharray="4 1"/>
<path d="M133.5 770.5h0M133.5 791.5h0M133.5 811.5h0M133.5 832.5h0M133.5 853.5h0M133.5 874.5h0M133.5 895.5h0M133.5 916.5h0M133.5 937.5h0M167.5 770.5h0M167.5 791.5h0M167.5 811.5h0M167.5 832.5h0M167.5 853.5h0M167.5 874.5h0M167.5 895.5h0M167.5 916.5h0M167.5 937.5h0M202.5 770.5h0M202.5 791.5h0M202.5 811.5h0M202.5 832.5h0M202.5 853.5h0M202.5 874.5h0M202.5 895.5h0M202.5 916.5h0M202.5 937.5h0M236.5 770.5h0M236.5 791.5h0M236.5 811.5h0M236.5 832.5h0M236.5 853.5h0M236.5 874.5h0M236.5 895.5h0M236.5 916.5h0M236.5 937.5h0M271.5 770.5h0M271.5 791.5h0M271.5 811.5h0M271.5 832.5h0M271.5 853.5h0M271.5 874.5h0M271.5 895.5h0M271.5 916.5h0M271.5 937.5h0M305.5 770.5h0M305.5 791.5h0M305.5 811.5h0M305.5 832.5h0M305.5 853.5h0M305.5 874.5h0M305.5 895.5h0M305.5 916.5h0M305.5 937.5h0M340.5 770.5h0M340.5 791.5h0M340.5 811.5h0M340.5 832.5h0M340.5 853.5h0M340.5 874.5h0M340.5 895.5h0M340.5 916.5h0M340.5 937.5h0M374.5 770.5h0M374.5 791.5h0M374.5 811.5h0M374.5 832.5h0M374.5 853.5h0M374.5 874.5h0M374.5 895.5h0M374.5 916.5h0M374.5 937.5h0M408.5 770.5h0M408.5 791.5h0M408.5 811.5h0M408.5 832.5h0M408.5 853.5h0M408.5 874.5h0M408.5 895.5h0M408.5 916.5h0M408.5 937.5h0" fill="none" stroke="#707070" stroke-width="1.5" stroke-linecap="round"/>
<path d="M118 955.3C119.17 955.23 123.08 955.08 125 954.9C126.92 954.72 128.08 954.65 129.5 954.2C130.92 953.75 132.1 953.25 133.5 952.2C134.9 951.15 136.72 949.43 137.9 947.9C139.08 946.37 139.73 944.85 140.6 943C141.47 941.15 142 941.3 143.1 936.8C144.2 932.3 146.02 922.83 147.2 916C148.38 909.17 149.28 902.68 150.2 895.8C151.12 888.92 151.98 881.67 152.7 874.7C153.42 867.73 153.93 860.95 154.5 854C155.07 847.05 155.55 839.92 156.1 833C156.65 826.08 157.17 819.43 157.8 812.5C158.43 805.57 159.18 798.33 159.9 791.4C160.62 784.47 161.32 776.55 162.1 770.9C162.88 765.25 163.88 760.9 164.6 757.5C165.32 754.1 165.8 750.27 166.4 750.5C167 750.73 167.57 754.83 168.2 758.9C168.83 762.97 169.45 768.25 170.2 774.9C170.95 781.55 171.78 790.5 172.7 798.8C173.62 807.1 174.7 815.73 175.7 824.7C176.7 833.67 177.7 843.97 178.7 852.6C179.7 861.23 180.7 869.2 181.7 876.5C182.7 883.8 183.7 890.42 184.7 896.4C185.7 902.38 186.53 907.42 187.7 912.4C188.87 917.38 190.37 922.48 191.7 926.3C193.03 930.12 194.2 932.65 195.7 935.3C197.2 937.95 198.72 940.12 200.7 942.2C202.68 944.28 204.78 946.3 207.6 947.8C210.42 949.3 212.62 950.13 217.6 951.2C222.58 952.27 230.87 953.53 237.5 954.2C244.13 954.87 254.08 955.03 257.4 955.2 L257.4 955.4 L118 955.4 Z" fill="url(#g3)"/>
<path d="M118 955.3C119.17 955.23 123.08 955.08 125 954.9C126.92 954.72 128.08 954.65 129.5 954.2C130.92 953.75 132.1 953.25 133.5 952.2C134.9 951.15 136.72 949.43 137.9 947.9C139.08 946.37 139.73 944.85 140.6 943C141.47 941.15 142 941.3 143.1 936.8C144.2 932.3 146.02 922.83 147.2 916C148.38 909.17 149.28 902.68 150.2 895.8C151.12 888.92 151.98 881.67 152.7 874.7C153.42 867.73 153.93 860.95 154.5 854C155.07 847.05 155.55 839.92 156.1 833C156.65 826.08 157.17 819.43 157.8 812.5C158.43 805.57 159.18 798.33 159.9 791.4C160.62 784.47 161.32 776.55 162.1 770.9C162.88 765.25 163.88 760.9 164.6 757.5C165.32 754.1 165.8 750.27 166.4 750.5C167 750.73 167.57 754.83 168.2 758.9C168.83 762.97 169.45 768.25 170.2 774.9C170.95 781.55 171.78 790.5 172.7 798.8C173.62 807.1 174.7 815.73 175.7 824.7C176.7 833.67 177.7 843.97 178.7 852.6C179.7 861.23 180.7 869.2 181.7 876.5C182.7 883.8 183.7 890.42 184.7 896.4C185.7 902.38 186.53 907.42 187.7 912.4C188.87 917.38 190.37 922.48 191.7 926.3C193.03 930.12 194.2 932.65 195.7 935.3C197.2 937.95 198.72 940.12 200.7 942.2C202.68 944.28 204.78 946.3 207.6 947.8C210.42 949.3 212.62 950.13 217.6 951.2C222.58 952.27 230.87 953.53 237.5 954.2C244.13 954.87 254.08 955.03 257.4 955.2" fill="none" stroke="url(#g3)" stroke-width="1.1"/>
<path d="M118 955.3C119.17 955.23 123.08 955.08 125 954.9C126.92 954.72 128.08 954.65 129.5 954.2C130.92 953.75 132.1 953.25 133.5 952.2C134.9 951.15 136.72 949.43 137.9 947.9C139.08 946.37 139.73 944.85 140.6 943C141.47 941.15 142 941.3 143.1 936.8C144.2 932.3 146.02 922.83 147.2 916C148.38 909.17 149.28 902.68 150.2 895.8C151.12 888.92 151.98 881.67 152.7 874.7C153.42 867.73 153.93 860.95 154.5 854C155.07 847.05 155.55 839.92 156.1 833C156.65 826.08 157.17 819.43 157.8 812.5C158.43 805.57 159.18 798.33 159.9 791.4C160.62 784.47 161.32 776.55 162.1 770.9C162.88 765.25 163.88 760.9 164.6 757.5C165.32 754.1 165.8 750.27 166.4 750.5C167 750.73 167.57 754.83 168.2 758.9C168.83 762.97 169.45 768.25 170.2 774.9C170.95 781.55 171.78 790.5 172.7 798.8C173.62 807.1 174.7 815.73 175.7 824.7C176.7 833.67 177.7 843.97 178.7 852.6C179.7 861.23 180.7 869.2 181.7 876.5C182.7 883.8 183.7 890.42 184.7 896.4C185.7 902.38 186.53 907.42 187.7 912.4C188.87 917.38 190.37 922.48 191.7 926.3C193.03 930.12 194.2 932.65 195.7 935.3C197.2 937.95 198.72 940.12 200.7 942.2C202.68 944.28 204.78 946.3 207.6 947.8C210.42 949.3 212.62 950.13 217.6 951.2C222.58 952.27 230.87 953.53 237.5 954.2C244.13 954.87 254.08 955.03 257.4 955.2" fill="none" stroke="url(#o3)" stroke-width="1.1"/>
<path d="M98.25 749.4H443.9" fill="none" stroke="#666" stroke-width="2"/>
<path d="M99 749.4V955.4" fill="none" stroke="#3a3a3a" stroke-width="1.5"/>
<path d="M98.25 955.4H443.9" fill="none" stroke="#3c3c3c" stroke-width="1.9"/>
<path d="M443.2 749.4V955.4" fill="none" stroke="#555" stroke-width="1.3"/>
<path d="M124 955.4H257.4" fill="none" stroke="url(#g3)" stroke-width="1.9"/>
<path d="M124 955.4H257.4" fill="none" stroke="#000010" stroke-opacity="0.45" stroke-width="1.9"/>
<rect x="99" y="959.9" width="344.4" height="4.7" fill="url(#b3)"/>
<text x="104" y="975" font-size="8.8" text-anchor="middle" textLength="18.8" lengthAdjust="spacingAndGlyphs" fill="#1c1c1c" stroke="#1c1c1c" stroke-width="0.45" stroke-linejoin="round">380</text>
<text x="135.5" y="975" font-size="8.8" text-anchor="middle" textLength="18.8" lengthAdjust="spacingAndGlyphs" fill="#1c1c1c" stroke="#1c1c1c" stroke-width="0.45" stroke-linejoin="round">420</text>
<text x="170" y="975" font-size="8.8" text-anchor="middle" textLength="18.8" lengthAdjust="spacingAndGlyphs" fill="#1c1c1c" stroke="#1c1c1c" stroke-width="0.45" stroke-linejoin="round">460</text>
<text x="204.5" y="975" font-size="8.8" text-anchor="middle" textLength="18.8" lengthAdjust="spacingAndGlyphs" fill="#1c1c1c" stroke="#1c1c1c" stroke-width="0.45" stroke-linejoin="round">500</text>
<text x="236" y="975" font-size="8.8" text-anchor="middle" textLength="18.8" lengthAdjust="spacingAndGlyphs" fill="#1c1c1c" stroke="#1c1c1c" stroke-width="0.45" stroke-linejoin="round">540</text>
<text x="271.5" y="975" font-size="8.8" text-anchor="middle" textLength="18.8" lengthAdjust="spacingAndGlyphs" fill="#1c1c1c" stroke="#1c1c1c" stroke-width="0.45" stroke-linejoin="round">580</text>
<text x="305.4" y="975" font-size="8.8" text-anchor="middle" textLength="18.8" lengthAdjust="spacingAndGlyphs" fill="#1c1c1c" stroke="#1c1c1c" stroke-width="0.45" stroke-linejoin="round">620</text>
<text x="339" y="975" font-size="8.8" text-anchor="middle" textLength="18.8" lengthAdjust="spacingAndGlyphs" fill="#1c1c1c" stroke="#1c1c1c" stroke-width="0.45" stroke-linejoin="round">660</text>
<text x="371" y="975" font-size="8.8" text-anchor="middle" textLength="18.8" lengthAdjust="spacingAndGlyphs" fill="#1c1c1c" stroke="#1c1c1c" stroke-width="0.45" stroke-linejoin="round">700</text>
<text x="405" y="975" font-size="8.8" text-anchor="middle" textLength="18.8" lengthAdjust="spacingAndGlyphs" fill="#1c1c1c" stroke="#1c1c1c" stroke-width="0.45" stroke-linejoin="round">740</text>
<text x="438" y="975" font-size="8.8" text-anchor="middle" textLength="18.8" lengthAdjust="spacingAndGlyphs" fill="#1c1c1c" stroke="#1c1c1c" stroke-width="0.45" stroke-linejoin="round">780</text>
<text x="75.6" y="749.7" font-size="7.2" textLength="14.8" lengthAdjust="spacingAndGlyphs" fill="#1c1c1c" stroke="#1c1c1c" stroke-width="0.35" stroke-linejoin="round">1.0</text>
<text x="75.6" y="770.4" font-size="7.2" textLength="14.8" lengthAdjust="spacingAndGlyphs" fill="#1c1c1c" stroke="#1c1c1c" stroke-width="0.35" stroke-linejoin="round">0.9</text>
<text x="75.6" y="791.1" font-size="7.2" textLength="14.8" lengthAdjust="spacingAndGlyphs" fill="#1c1c1c" stroke="#1c1c1c" stroke-width="0.35" stroke-linejoin="round">0.8</text>
<text x="75.6" y="811.8" font-size="7.2" textLength="14.8" lengthAdjust="spacingAndGlyphs" fill="#1c1c1c" stroke="#1c1c1c" stroke-width="0.35" stroke-linejoin="round">0.7</text>
<text x="75.6" y="832.5" font-size="7.2" textLength="14.8" lengthAdjust="spacingAndGlyphs" fill="#1c1c1c" stroke="#1c1c1c" stroke-width="0.35" stroke-linejoin="round">0.6</text>
<text x="75.6" y="853.2" font-size="7.2" textLength="14.8" lengthAdjust="spacingAndGlyphs" fill="#1c1c1c" stroke="#1c1c1c" stroke-width="0.35" stroke-linejoin="round">0.5</text>
<text x="75.6" y="873.9" font-size="7.2" textLength="14.8" lengthAdjust="spacingAndGlyphs" fill="#1c1c1c" stroke="#1c1c1c" stroke-width="0.35" stroke-linejoin="round">0.4</text>
<text x="75.6" y="894.6" font-size="7.2" textLength="14.8" lengthAdjust="spacingAndGlyphs" fill="#1c1c1c" stroke="#1c1c1c" stroke-width="0.35" stroke-linejoin="round">0.3</text>
<text x="75.6" y="915.3" font-size="7.2" textLength="14.8" lengthAdjust="spacingAndGlyphs" fill="#1c1c1c" stroke="#1c1c1c" stroke-width="0.35" stroke-linejoin="round">0.2</text>
<text x="75.6" y="936" font-size="7.2" textLength="14.8" lengthAdjust="spacingAndGlyphs" fill="#1c1c1c" stroke="#1c1c1c" stroke-width="0.35" stroke-linejoin="round">0.1</text>
<text x="75.6" y="956.7" font-size="7.2" textLength="14.8" lengthAdjust="spacingAndGlyphs" fill="#1c1c1c" stroke="#1c1c1c" stroke-width="0.35" stroke-linejoin="round">0.0</text>
<text transform="translate(64.7 951.87) rotate(-90)" font-size="14.2" textLength="52.63" lengthAdjust="spacingAndGlyphs" fill="#1a1a1a" stroke="#1a1a1a" stroke-width="0.35">Relative</text>
<text transform="translate(64.7 893.07) rotate(-90)" font-size="14.2" textLength="49.43" lengthAdjust="spacingAndGlyphs" fill="#1a1a1a" stroke="#1a1a1a" stroke-width="0.35">Radiant</text>
<text transform="translate(64.7 836.47) rotate(-90)" font-size="14.2" textLength="39.63" lengthAdjust="spacingAndGlyphs" fill="#1a1a1a" stroke="#1a1a1a" stroke-width="0.35">Power</text>
<text transform="translate(63 795.26) rotate(-90)" font-size="14.2" textLength="22.03" lengthAdjust="spacingAndGlyphs" fill="#1a1a1a" stroke="#1a1a1a" stroke-width="0.35">[%]</text>
<text x="218.2" y="999.6" font-size="14" textLength="104.4" lengthAdjust="spacingAndGlyphs" fill="#1a1a1a" stroke="#1a1a1a" stroke-width="0.35" stroke-linejoin="round">Wavelength[nm]</text>
</g>
<text x="584.6" y="120.9" font-size="37.2" textLength="58.4" lengthAdjust="spacingAndGlyphs" fill="#0d2553" stroke="#0d2553" stroke-width="0.95" stroke-linejoin="round">Full</text>
<text x="646.4" y="120.9" font-size="37.2" textLength="147.4" lengthAdjust="spacingAndGlyphs" fill="#0d2553" stroke="#0d2553" stroke-width="0.95" stroke-linejoin="round">Spectrum</text>
<g id="chart-F">
<path d="M632.5 143.1 V406.4M676.5 143.1 V406.4M720.5 143.1 V406.4M764.5 143.1 V406.4M809.5 143.1 V406.4M853.5 143.1 V406.4M897.5 143.1 V406.4M941.5 143.1 V406.4M985.5 143.1 V406.4" fill="none" stroke="#6a6a6a" stroke-width="1" stroke-dasharray="1.3 1.2"/>
<path d="M588.9 169.5 H1029.1M588.9 196.5 H1029.1M588.9 222.5 H1029.1M588.9 249.5 H1029.1M588.9 276.5 H1029.1M588.9 302.5 H1029.1M588.9 329.5 H1029.1M588.9 355.5 H1029.1M588.9 382.5 H1029.1" fill="none" stroke="#4a4a4a" stroke-width="1.05" stroke-dasharray="1.4 1.1"/>
<path d="M632.5 169.5h0M632.5 196.5h0M632.5 222.5h0M632.5 249.5h0M632.5 276.5h0M632.5 302.5h0M632.5 329.5h0M632.5 355.5h0M632.5 382.5h0M676.5 169.5h0M676.5 196.5h0M676.5 222.5h0M676.5 249.5h0M676.5 276.5h0M676.5 302.5h0M676.5 329.5h0M676.5 355.5h0M676.5 382.5h0M720.5 169.5h0M720.5 196.5h0M720.5 222.5h0M720.5 249.5h0M720.5 276.5h0M720.5 302.5h0M720.5 329.5h0M720.5 355.5h0M720.5 382.5h0M764.5 169.5h0M764.5 196.5h0M764.5 222.5h0M764.5 249.5h0M764.5 276.5h0M764.5 302.5h0M764.5 329.5h0M764.5 355.5h0M764.5 382.5h0M809.5 169.5h0M809.5 196.5h0M809.5 222.5h0M809.5 249.5h0M809.5 276.5h0M809.5 302.5h0M809.5 329.5h0M809.5 355.5h0M809.5 382.5h0M853.5 169.5h0M853.5 196.5h0M853.5 222.5h0M853.5 249.5h0M853.5 276.5h0M853.5 302.5h0M853.5 329.5h0M853.5 355.5h0M853.5 382.5h0M897.5 169.5h0M897.5 196.5h0M897.5 222.5h0M897.5 249.5h0M897.5 276.5h0M897.5 302.5h0M897.5 329.5h0M897.5 355.5h0M897.5 382.5h0M941.5 169.5h0M941.5 196.5h0M941.5 222.5h0M941.5 249.5h0M941.5 276.5h0M941.5 302.5h0M941.5 329.5h0M941.5 355.5h0M941.5 382.5h0M985.5 169.5h0M985.5 196.5h0M985.5 222.5h0M985.5 249.5h0M985.5 276.5h0M985.5 302.5h0M985.5 329.5h0M985.5 355.5h0M985.5 382.5h0" fill="none" stroke="#333" stroke-width="1.7" stroke-linecap="round"/>
<path d="M594 406.4C595.32 406.27 599.42 406.23 601.9 405.6C604.38 404.97 606.58 404.25 608.9 402.6C611.22 400.95 613.48 398.72 615.8 395.7C618.12 392.68 620.95 387.28 622.8 384.5C624.65 381.72 625.75 380.2 626.9 379C628.05 377.8 628.3 377.65 629.7 377.3C631.1 376.95 633.68 377 635.3 376.9C636.92 376.8 638.02 377.28 639.4 376.7C640.78 376.12 642.43 375.1 643.6 373.4C644.77 371.7 645.47 369.52 646.4 366.5C647.33 363.48 648.27 361.1 649.2 355.3C650.13 349.5 651.1 340.08 652 331.7C652.9 323.32 653.77 314.32 654.6 305C655.43 295.68 656.27 285.03 657 275.8C657.73 266.57 658.27 258.48 659 249.6C659.73 240.72 660.6 231.4 661.4 222.5C662.2 213.6 662.92 204.97 663.8 196.2C664.68 187.43 665.73 177.1 666.7 169.9C667.67 162.7 668.53 157.38 669.6 153C670.67 148.62 671.98 143.98 673.1 143.6C674.22 143.22 675.27 146.12 676.3 150.7C677.33 155.28 678.15 162.17 679.3 171.1C680.45 180.03 681.92 192.83 683.2 204.3C684.48 215.77 685.73 228.43 687 239.9C688.27 251.37 689.6 262.62 690.8 273.1C692 283.58 692.82 293.4 694.2 302.8C695.58 312.2 697.75 322.87 699.1 329.5C700.45 336.13 701.12 338.23 702.3 342.6C703.48 346.97 704.72 351.2 706.2 355.7C707.68 360.2 709.45 365.15 711.2 369.6C712.95 374.05 714.85 378.97 716.7 382.4C718.55 385.83 720.07 388.07 722.3 390.2C724.53 392.33 727.65 394.23 730.1 395.2C732.55 396.17 734.02 396 737 396C739.98 396 743.67 395.53 748 395.2C752.33 394.87 755.25 394.08 763 394C770.75 393.92 784 394.33 794.5 394.7C805 395.07 816.53 395.58 826 396.2C835.47 396.82 842.88 397.5 851.3 398.4C859.72 399.3 868.1 400.7 876.5 401.6C884.9 402.5 893.3 403.22 901.7 403.8C910.1 404.38 915.35 404.68 926.9 405.1C938.45 405.52 963.65 406.1 971 406.3 L971 406.4 L594 406.4 Z" fill="url(#gF)"/>
<path d="M594 406.4C595.32 406.27 599.42 406.23 601.9 405.6C604.38 404.97 606.58 404.25 608.9 402.6C611.22 400.95 613.48 398.72 615.8 395.7C618.12 392.68 620.95 387.28 622.8 384.5C624.65 381.72 625.75 380.2 626.9 379C628.05 377.8 628.3 377.65 629.7 377.3C631.1 376.95 633.68 377 635.3 376.9C636.92 376.8 638.02 377.28 639.4 376.7C640.78 376.12 642.43 375.1 643.6 373.4C644.77 371.7 645.47 369.52 646.4 366.5C647.33 363.48 648.27 361.1 649.2 355.3C650.13 349.5 651.1 340.08 652 331.7C652.9 323.32 653.77 314.32 654.6 305C655.43 295.68 656.27 285.03 657 275.8C657.73 266.57 658.27 258.48 659 249.6C659.73 240.72 660.6 231.4 661.4 222.5C662.2 213.6 662.92 204.97 663.8 196.2C664.68 187.43 665.73 177.1 666.7 169.9C667.67 162.7 668.53 157.38 669.6 153C670.67 148.62 671.98 143.98 673.1 143.6C674.22 143.22 675.27 146.12 676.3 150.7C677.33 155.28 678.15 162.17 679.3 171.1C680.45 180.03 681.92 192.83 683.2 204.3C684.48 215.77 685.73 228.43 687 239.9C688.27 251.37 689.6 262.62 690.8 273.1C692 283.58 692.82 293.4 694.2 302.8C695.58 312.2 697.75 322.87 699.1 329.5C700.45 336.13 701.12 338.23 702.3 342.6C703.48 346.97 704.72 351.2 706.2 355.7C707.68 360.2 709.45 365.15 711.2 369.6C712.95 374.05 714.85 378.97 716.7 382.4C718.55 385.83 720.07 388.07 722.3 390.2C724.53 392.33 727.65 394.23 730.1 395.2C732.55 396.17 734.02 396 737 396C739.98 396 743.67 395.53 748 395.2C752.33 394.87 755.25 394.08 763 394C770.75 393.92 784 394.33 794.5 394.7C805 395.07 816.53 395.58 826 396.2C835.47 396.82 842.88 397.5 851.3 398.4C859.72 399.3 868.1 400.7 876.5 401.6C884.9 402.5 893.3 403.22 901.7 403.8C910.1 404.38 915.35 404.68 926.9 405.1C938.45 405.52 963.65 406.1 971 406.3" fill="none" stroke="url(#gF)" stroke-width="1.2"/>
<path d="M594 406.4C595.32 406.27 599.42 406.23 601.9 405.6C604.38 404.97 606.58 404.25 608.9 402.6C611.22 400.95 613.48 398.72 615.8 395.7C618.12 392.68 620.95 387.28 622.8 384.5C624.65 381.72 625.75 380.2 626.9 379C628.05 377.8 628.3 377.65 629.7 377.3C631.1 376.95 633.68 377 635.3 376.9C636.92 376.8 638.02 377.28 639.4 376.7C640.78 376.12 642.43 375.1 643.6 373.4C644.77 371.7 645.47 369.52 646.4 366.5C647.33 363.48 648.27 361.1 649.2 355.3C650.13 349.5 651.1 340.08 652 331.7C652.9 323.32 653.77 314.32 654.6 305C655.43 295.68 656.27 285.03 657 275.8C657.73 266.57 658.27 258.48 659 249.6C659.73 240.72 660.6 231.4 661.4 222.5C662.2 213.6 662.92 204.97 663.8 196.2C664.68 187.43 665.73 177.1 666.7 169.9C667.67 162.7 668.53 157.38 669.6 153C670.67 148.62 671.98 143.98 673.1 143.6C674.22 143.22 675.27 146.12 676.3 150.7C677.33 155.28 678.15 162.17 679.3 171.1C680.45 180.03 681.92 192.83 683.2 204.3C684.48 215.77 685.73 228.43 687 239.9C688.27 251.37 689.6 262.62 690.8 273.1C692 283.58 692.82 293.4 694.2 302.8C695.58 312.2 697.75 322.87 699.1 329.5C700.45 336.13 701.12 338.23 702.3 342.6C703.48 346.97 704.72 351.2 706.2 355.7C707.68 360.2 709.45 365.15 711.2 369.6C712.95 374.05 714.85 378.97 716.7 382.4C718.55 385.83 720.07 388.07 722.3 390.2C724.53 392.33 727.65 394.23 730.1 395.2C732.55 396.17 734.02 396 737 396C739.98 396 743.67 395.53 748 395.2C752.33 394.87 755.25 394.08 763 394C770.75 393.92 784 394.33 794.5 394.7C805 395.07 816.53 395.58 826 396.2C835.47 396.82 842.88 397.5 851.3 398.4C859.72 399.3 868.1 400.7 876.5 401.6C884.9 402.5 893.3 403.22 901.7 403.8C910.1 404.38 915.35 404.68 926.9 405.1C938.45 405.52 963.65 406.1 971 406.3" fill="none" stroke="url(#oF)" stroke-width="1.2"/>
<rect x="588.9" y="143.1" width="440.2" height="263.3" fill="none" stroke="#333" stroke-width="1.9"/>
<path d="M600 406.4H971" fill="none" stroke="url(#gF)" stroke-width="1.9"/>
<path d="M600 406.4H971" fill="none" stroke="#000010" stroke-opacity="0.45" stroke-width="1.9"/>
<rect x="588.9" y="412.3" width="440.2" height="5.2" fill="url(#bF)"/>
<text x="596.3" y="431.2" font-size="10.4" text-anchor="middle" textLength="24" lengthAdjust="spacingAndGlyphs" fill="#1c1c1c" stroke="#1c1c1c" stroke-width="0.35" stroke-linejoin="round">380</text>
<text x="636.6" y="431.2" font-size="10.4" text-anchor="middle" textLength="24" lengthAdjust="spacingAndGlyphs" fill="#1c1c1c" stroke="#1c1c1c" stroke-width="0.35" stroke-linejoin="round">420</text>
<text x="679.8" y="431.2" font-size="10.4" text-anchor="middle" textLength="24" lengthAdjust="spacingAndGlyphs" fill="#1c1c1c" stroke="#1c1c1c" stroke-width="0.35" stroke-linejoin="round">460</text>
<text x="723.4" y="431.2" font-size="10.4" text-anchor="middle" textLength="24" lengthAdjust="spacingAndGlyphs" fill="#1c1c1c" stroke="#1c1c1c" stroke-width="0.35" stroke-linejoin="round">500</text>
<text x="763.9" y="431.2" font-size="10.4" text-anchor="middle" textLength="24" lengthAdjust="spacingAndGlyphs" fill="#1c1c1c" stroke="#1c1c1c" stroke-width="0.35" stroke-linejoin="round">540</text>
<text x="809.8" y="431.2" font-size="10.4" text-anchor="middle" textLength="24" lengthAdjust="spacingAndGlyphs" fill="#1c1c1c" stroke="#1c1c1c" stroke-width="0.35" stroke-linejoin="round">580</text>
<text x="852.8" y="431.2" font-size="10.4" text-anchor="middle" textLength="24" lengthAdjust="spacingAndGlyphs" fill="#1c1c1c" stroke="#1c1c1c" stroke-width="0.35" stroke-linejoin="round">620</text>
<text x="896.3" y="431.2" font-size="10.4" text-anchor="middle" textLength="24" lengthAdjust="spacingAndGlyphs" fill="#1c1c1c" stroke="#1c1c1c" stroke-width="0.35" stroke-linejoin="round">660</text>
<text x="936.7" y="431.2" font-size="10.4" text-anchor="middle" textLength="24" lengthAdjust="spacingAndGlyphs" fill="#1c1c1c" stroke="#1c1c1c" stroke-width="0.35" stroke-linejoin="round">700</text>
<text x="980.3" y="431.2" font-size="10.4" text-anchor="middle" textLength="24" lengthAdjust="spacingAndGlyphs" fill="#1c1c1c" stroke="#1c1c1c" stroke-width="0.35" stroke-linejoin="round">740</text>
<text x="1023.3" y="431.2" font-size="10.4" text-anchor="middle" textLength="24" lengthAdjust="spacingAndGlyphs" fill="#1c1c1c" stroke="#1c1c1c" stroke-width="0.35" stroke-linejoin="round">780</text>
<text x="560" y="142.8" font-size="9.2" textLength="20" lengthAdjust="spacingAndGlyphs" fill="#1c1c1c" stroke="#1c1c1c" stroke-width="0.35" stroke-linejoin="round">1.0</text>
<text x="560" y="169.25" font-size="9.2" textLength="20" lengthAdjust="spacingAndGlyphs" fill="#1c1c1c" stroke="#1c1c1c" stroke-width="0.35" stroke-linejoin="round">0.9</text>
<text x="560" y="195.7" font-size="9.2" textLength="20" lengthAdjust="spacingAndGlyphs" fill="#1c1c1c" stroke="#1c1c1c" stroke-width="0.35" stroke-linejoin="round">0.8</text>
<text x="560" y="222.15" font-size="9.2" textLength="20" lengthAdjust="spacingAndGlyphs" fill="#1c1c1c" stroke="#1c1c1c" stroke-width="0.35" stroke-linejoin="round">0.7</text>
<text x="560" y="248.6" font-size="9.2" textLength="20" lengthAdjust="spacingAndGlyphs" fill="#1c1c1c" stroke="#1c1c1c" stroke-width="0.35" stroke-linejoin="round">0.6</text>
<text x="560" y="275.05" font-size="9.2" textLength="20" lengthAdjust="spacingAndGlyphs" fill="#1c1c1c" stroke="#1c1c1c" stroke-width="0.35" stroke-linejoin="round">0.5</text>
<text x="560" y="301.5" font-size="9.2" textLength="20" lengthAdjust="spacingAndGlyphs" fill="#1c1c1c" stroke="#1c1c1c" stroke-width="0.35" stroke-linejoin="round">0.4</text>
<text x="560" y="327.95" font-size="9.2" textLength="20" lengthAdjust="spacingAndGlyphs" fill="#1c1c1c" stroke="#1c1c1c" stroke-width="0.35" stroke-linejoin="round">0.3</text>
<text x="560" y="354.4" font-size="9.2" textLength="20" lengthAdjust="spacingAndGlyphs" fill="#1c1c1c" stroke="#1c1c1c" stroke-width="0.35" stroke-linejoin="round">0.2</text>
<text x="560" y="380.85" font-size="9.2" textLength="20" lengthAdjust="spacingAndGlyphs" fill="#1c1c1c" stroke="#1c1c1c" stroke-width="0.35" stroke-linejoin="round">0.1</text>
<text x="560" y="407.3" font-size="9.2" textLength="20" lengthAdjust="spacingAndGlyphs" fill="#1c1c1c" stroke="#1c1c1c" stroke-width="0.35" stroke-linejoin="round">0.0</text>
<text transform="translate(545.9 401.2) rotate(-90)" font-size="18.7" textLength="65.95" lengthAdjust="spacingAndGlyphs" fill="#1a1a1a" stroke="#1a1a1a" stroke-width="0.35">Relative</text>
<text transform="translate(545.9 327.6) rotate(-90)" font-size="18.7" textLength="61.95" lengthAdjust="spacingAndGlyphs" fill="#1a1a1a" stroke="#1a1a1a" stroke-width="0.35">Radiant</text>
<text transform="translate(545.9 256.8) rotate(-90)" font-size="18.7" textLength="51.35" lengthAdjust="spacingAndGlyphs" fill="#1a1a1a" stroke="#1a1a1a" stroke-width="0.35">Power</text>
<text transform="translate(543.66 201.2) rotate(-90)" font-size="18.7" textLength="26.55" lengthAdjust="spacingAndGlyphs" fill="#1a1a1a" stroke="#1a1a1a" stroke-width="0.35">[%]</text>
<text x="744" y="461.4" font-size="18" textLength="132.6" lengthAdjust="spacingAndGlyphs" fill="#1a1a1a" stroke="#1a1a1a" stroke-width="0.35" stroke-linejoin="round">Wavelength(nm)</text>
</g>
<g id="led-panel">
<rect x="580.3" y="513.4" width="305" height="177.9" rx="10" ry="10" fill="#fff" stroke="#555b5b" stroke-width="1.9"/>
<circle cx="611.2" cy="541.5" r="13.9" fill="#fdfdfd" stroke="#e6e6e6" stroke-width="1.5"/>
<rect x="602.95" y="533.25" width="16.5" height="16.5" fill="#d8d8d8"/>
<circle cx="611.2" cy="541.5" r="5.9" fill="#f7f7f7"/>
<circle cx="651.6" cy="541.5" r="13.9" fill="#fdfdfd" stroke="#e6e6e6" stroke-width="1.5"/>
<rect x="643.35" y="533.25" width="16.5" height="16.5" fill="#d5d5db"/>
<circle cx="651.6" cy="541.5" r="6.8" fill="#e2e2fa"/>
<circle cx="651.6" cy="541.5" r="5.3" fill="#2a2290" stroke="#17135a" stroke-width="0.9"/>
<circle cx="692" cy="541.5" r="13.9" fill="#fdfdfd" stroke="#e6e6e6" stroke-width="1.5"/>
<rect x="683.75" y="533.25" width="16.5" height="16.5" fill="#d5d5db"/>
<circle cx="692" cy="541.5" r="6.8" fill="#dfe6fa"/>
<circle cx="692" cy="541.5" r="5.3" fill="#3b68b8" stroke="#284a94" stroke-width="0.9"/>
<circle cx="732.3" cy="541.5" r="13.9" fill="#fdfdfd" stroke="#e6e6e6" stroke-width="1.5"/>
<rect x="724.05" y="533.25" width="16.5" height="16.5" fill="#d8d8d8"/>
<circle cx="732.3" cy="541.5" r="5.9" fill="#f7f7f7"/>
<circle cx="772.8" cy="541.5" r="13.9" fill="#fdfdfd" stroke="#e6e6e6" stroke-width="1.5"/>
<rect x="764.55" y="533.25" width="16.5" height="16.5" fill="#d5d5db"/>
<circle cx="772.8" cy="541.5" r="6.8" fill="#e2e2fa"/>
<circle cx="772.8" cy="541.5" r="5.3" fill="#2a2290" stroke="#17135a" stroke-width="0.9"/>
<circle cx="813.3" cy="541.5" r="13.9" fill="#fdfdfd" stroke="#e6e6e6" stroke-width="1.5"/>
<rect x="805.05" y="533.25" width="16.5" height="16.5" fill="#d5d5db"/>
<circle cx="813.3" cy="541.5" r="6.8" fill="#e2e2fa"/>
<circle cx="813.3" cy="541.5" r="5.3" fill="#2a2290" stroke="#17135a" stroke-width="0.9"/>
<circle cx="853.9" cy="541.5" r="13.9" fill="#fdfdfd" stroke="#e6e6e6" stroke-width="1.5"/>
<rect x="845.65" y="533.25" width="16.5" height="16.5" fill="#d8d8d8"/>
<circle cx="853.9" cy="541.5" r="5.9" fill="#f7f7f7"/>
<circle cx="611.2" cy="581.8" r="13.9" fill="#fdfdfd" stroke="#e6e6e6" stroke-width="1.5"/>
<rect x="602.95" y="573.55" width="16.5" height="16.5" fill="#d5d5db"/>
<circle cx="611.2" cy="581.8" r="6.8" fill="#e2e2fa"/>
<circle cx="611.2" cy="581.8" r="5.3" fill="#2a2290" stroke="#17135a" stroke-width="0.9"/>
<circle cx="651.6" cy="581.8" r="13.9" fill="#fdfdfd" stroke="#e6e6e6" stroke-width="1.5"/>
<rect x="643.35" y="573.55" width="16.5" height="16.5" fill="#d5d5db"/>
<circle cx="651.6" cy="581.8" r="6.8" fill="#dfe6fa"/>
<circle cx="651.6" cy="581.8" r="5.3" fill="#3b68b8" stroke="#284a94" stroke-width="0.9"/>
<circle cx="692" cy="581.8" r="13.9" fill="#fdfdfd" stroke="#e6e6e6" stroke-width="1.5"/>
<rect x="683.75" y="573.55" width="16.5" height="16.5" fill="#d5d5db"/>
<circle cx="692" cy="581.8" r="6.8" fill="#e2e2fa"/>
<circle cx="692" cy="581.8" r="5.3" fill="#2a2290" stroke="#17135a" stroke-width="0.9"/>
<circle cx="732.3" cy="581.8" r="13.9" fill="#fdfdfd" stroke="#e6e6e6" stroke-width="1.5"/>
<rect x="724.05" y="573.55" width="16.5" height="16.5" fill="#d5d5db"/>
<circle cx="732.3" cy="581.8" r="6.8" fill="#e6e2f4"/>
<circle cx="732.3" cy="581.8" r="5.3" fill="#9383c3" stroke="#7f70b4" stroke-width="0.9"/>
<circle cx="772.8" cy="581.8" r="13.9" fill="#fdfdfd" stroke="#e6e6e6" stroke-width="1.5"/>
<rect x="764.55" y="573.55" width="16.5" height="16.5" fill="#d5d5db"/>
<circle cx="772.8" cy="581.8" r="6.8" fill="#e2e2fa"/>
<circle cx="772.8" cy="581.8" r="5.3" fill="#2a2290" stroke="#17135a" stroke-width="0.9"/>
<circle cx="813.3" cy="581.8" r="13.9" fill="#fdfdfd" stroke="#e6e6e6" stroke-width="1.5"/>
<rect x="805.05" y="573.55" width="16.5" height="16.5" fill="#d5d5db"/>
<circle cx="813.3" cy="581.8" r="6.8" fill="#dfe6fa"/>
<circle cx="813.3" cy="581.8" r="5.3" fill="#3b68b8" stroke="#284a94" stroke-width="0.9"/>
<circle cx="853.9" cy="581.8" r="13.9" fill="#fdfdfd" stroke="#e6e6e6" stroke-width="1.5"/>
<rect x="845.65" y="573.55" width="16.5" height="16.5" fill="#d5d5db"/>
<circle cx="853.9" cy="581.8" r="6.8" fill="#e2e2fa"/>
<circle cx="853.9" cy="581.8" r="5.3" fill="#2a2290" stroke="#17135a" stroke-width="0.9"/>
<circle cx="611.2" cy="622.3" r="13.9" fill="#fdfdfd" stroke="#e6e6e6" stroke-width="1.5"/>
<rect x="602.95" y="614.05" width="16.5" height="16.5" fill="#d5d5db"/>
<circle cx="611.2" cy="622.3" r="6.8" fill="#e2e2fa"/>
<circle cx="611.2" cy="622.3" r="5.3" fill="#2a2290" stroke="#17135a" stroke-width="0.9"/>
<circle cx="651.6" cy="622.3" r="13.9" fill="#fdfdfd" stroke="#e6e6e6" stroke-width="1.5"/>
<rect x="643.35" y="614.05" width="16.5" height="16.5" fill="#d5d5db"/>
<circle cx="651.6" cy="622.3" r="6.8" fill="#dfe6fa"/>
<circle cx="651.6" cy="622.3" r="5.3" fill="#3b68b8" stroke="#284a94" stroke-width="0.9"/>
<circle cx="692" cy="622.3" r="13.9" fill="#fdfdfd" stroke="#e6e6e6" stroke-width="1.5"/>
<rect x="683.75" y="614.05" width="16.5" height="16.5" fill="#d5d5db"/>
<circle cx="692" cy="622.3" r="6.8" fill="#e6e2f4"/>
<circle cx="692" cy="622.3" r="5.3" fill="#9383c3" stroke="#7f70b4" stroke-width="0.9"/>
<circle cx="732.3" cy="622.3" r="13.9" fill="#fdfdfd" stroke="#e6e6e6" stroke-width="1.5"/>
<rect x="724.05" y="614.05" width="16.5" height="16.5" fill="#d5d5db"/>
<circle cx="732.3" cy="622.3" r="6.8" fill="#dfe6fa"/>
<circle cx="732.3" cy="622.3" r="5.3" fill="#3b68b8" stroke="#284a94" stroke-width="0.9"/>
<circle cx="772.8" cy="622.3" r="13.9" fill="#fdfdfd" stroke="#e6e6e6" stroke-width="1.5"/>
<rect x="764.55" y="614.05" width="16.5" height="16.5" fill="#d8d8d8"/>
<circle cx="772.8" cy="622.3" r="5.9" fill="#f7f7f7"/>
<circle cx="813.3" cy="622.3" r="13.9" fill="#fdfdfd" stroke="#e6e6e6" stroke-width="1.5"/>
<rect x="805.05" y="614.05" width="16.5" height="16.5" fill="#d5d5db"/>
<circle cx="813.3" cy="622.3" r="6.8" fill="#dfe6fa"/>
<circle cx="813.3" cy="622.3" r="5.3" fill="#3b68b8" stroke="#284a94" stroke-width="0.9"/>
<circle cx="853.9" cy="622.3" r="13.9" fill="#fdfdfd" stroke="#e6e6e6" stroke-width="1.5"/>
<rect x="845.65" y="614.05" width="16.5" height="16.5" fill="#d5d5db"/>
<circle cx="853.9" cy="622.3" r="6.8" fill="#e2e2fa"/>
<circle cx="853.9" cy="622.3" r="5.3" fill="#2a2290" stroke="#17135a" stroke-width="0.9"/>
<circle cx="611.2" cy="662.5" r="13.9" fill="#fdfdfd" stroke="#e6e6e6" stroke-width="1.5"/>
<rect x="602.95" y="654.25" width="16.5" height="16.5" fill="#d8d8d8"/>
<circle cx="611.2" cy="662.5" r="5.9" fill="#f7f7f7"/>
<circle cx="651.6" cy="662.5" r="13.9" fill="#fdfdfd" stroke="#e6e6e6" stroke-width="1.5"/>
<rect x="643.35" y="654.25" width="16.5" height="16.5" fill="#d5d5db"/>
<circle cx="651.6" cy="662.5" r="6.8" fill="#e2e2fa"/>
<circle cx="651.6" cy="662.5" r="5.3" fill="#2a2290" stroke="#17135a" stroke-width="0.9"/>
<circle cx="692" cy="662.5" r="13.9" fill="#fdfdfd" stroke="#e6e6e6" stroke-width="1.5"/>
<rect x="683.75" y="654.25" width="16.5" height="16.5" fill="#d5d5db"/>
<circle cx="692" cy="662.5" r="6.8" fill="#dfe6fa"/>
<circle cx="692" cy="662.5" r="5.3" fill="#3b68b8" stroke="#284a94" stroke-width="0.9"/>
<circle cx="732.3" cy="662.5" r="13.9" fill="#fdfdfd" stroke="#e6e6e6" stroke-width="1.5"/>
<rect x="724.05" y="654.25" width="16.5" height="16.5" fill="#d8d8d8"/>
<circle cx="732.3" cy="662.5" r="5.9" fill="#f7f7f7"/>
<circle cx="772.8" cy="662.5" r="13.9" fill="#fdfdfd" stroke="#e6e6e6" stroke-width="1.5"/>
<rect x="764.55" y="654.25" width="16.5" height="16.5" fill="#d5d5db"/>
<circle cx="772.8" cy="662.5" r="6.8" fill="#e2e2fa"/>
<circle cx="772.8" cy="662.5" r="5.3" fill="#2a2290" stroke="#17135a" stroke-width="0.9"/>
<circle cx="813.3" cy="662.5" r="13.9" fill="#fdfdfd" stroke="#e6e6e6" stroke-width="1.5"/>
<rect x="805.05" y="654.25" width="16.5" height="16.5" fill="#d5d5db"/>
<circle cx="813.3" cy="662.5" r="6.8" fill="#e2e2fa"/>
<circle cx="813.3" cy="662.5" r="5.3" fill="#2a2290" stroke="#17135a" stroke-width="0.9"/>
<circle cx="853.9" cy="662.5" r="13.9" fill="#fdfdfd" stroke="#e6e6e6" stroke-width="1.5"/>
<rect x="845.65" y="654.25" width="16.5" height="16.5" fill="#d8d8d8"/>
<circle cx="853.9" cy="662.5" r="5.9" fill="#f7f7f7"/>
</g>
<g id="legend">
<text x="582.8" y="755.8" font-size="28.6" textLength="143" lengthAdjust="spacingAndGlyphs" fill="#141414" stroke="#141414" stroke-width="0.45" stroke-linejoin="round">iLumenAir</text>
<text x="733.3" y="755.8" font-size="28.6" textLength="67.1" lengthAdjust="spacingAndGlyphs" fill="#141414" stroke="#141414" stroke-width="0.45" stroke-linejoin="round">900+</text>
<text x="807" y="755.8" font-size="28.6" textLength="30.5" lengthAdjust="spacingAndGlyphs" fill="#141414" stroke="#141414" stroke-width="0.45" stroke-linejoin="round">28</text>
<text x="844.1" y="755.8" font-size="28.6" textLength="17.3" lengthAdjust="spacingAndGlyphs" fill="#141414" stroke="#141414" stroke-width="0.45" stroke-linejoin="round">x</text>
<text x="865.4" y="755.8" font-size="28.6" textLength="17.3" lengthAdjust="spacingAndGlyphs" fill="#141414" stroke="#141414" stroke-width="0.45" stroke-linejoin="round">2</text>
<text x="889.7" y="755.8" font-size="28.6" textLength="20.3" lengthAdjust="spacingAndGlyphs" fill="#141414" stroke="#141414" stroke-width="0.45" stroke-linejoin="round">=</text>
<text x="916.6" y="755.8" font-size="28.6" textLength="30.9" lengthAdjust="spacingAndGlyphs" fill="#141414" stroke="#141414" stroke-width="0.45" stroke-linejoin="round">56</text>
<text x="955" y="755.8" font-size="28.6" textLength="72.2" lengthAdjust="spacingAndGlyphs" fill="#141414" stroke="#141414" stroke-width="0.45" stroke-linejoin="round">LEDs</text>
<text x="582.4" y="830.6" font-size="23" font-weight="bold" textLength="39.6" lengthAdjust="spacingAndGlyphs" fill="#141414">CH1</text>
<text x="582.4" y="877.3" font-size="23" font-weight="bold" textLength="43.6" lengthAdjust="spacingAndGlyphs" fill="#141414">CH2</text>
<text x="582.4" y="921.6" font-size="23" font-weight="bold" textLength="43.6" lengthAdjust="spacingAndGlyphs" fill="#141414">CH3</text>
<circle cx="649.4" cy="823.5" r="14.3" fill="#fdfdfd" stroke="#ebebeb" stroke-width="1.5"/>
<rect x="641.2" y="815.3" width="16.4" height="16.4" fill="#d8d8d8"/>
<circle cx="649.4" cy="823.5" r="5.9" fill="#f7f7f7"/>
<circle cx="649.4" cy="869.9" r="14.3" fill="#fdfdfd" stroke="#ebebeb" stroke-width="1.5"/>
<rect x="641.2" y="861.7" width="16.4" height="16.4" fill="#d5d5db"/>
<circle cx="649.4" cy="869.9" r="7" fill="#e2e2fa"/>
<circle cx="649.4" cy="869.9" r="5.5" fill="#2a2290" stroke="#17135a" stroke-width="0.9"/>
<circle cx="837.9" cy="869.9" r="14.3" fill="#fdfdfd" stroke="#ebebeb" stroke-width="1.5"/>
<rect x="829.7" y="861.7" width="16.4" height="16.4" fill="#d5d5db"/>
<circle cx="837.9" cy="869.9" r="7" fill="#e6e2f4"/>
<circle cx="837.9" cy="869.9" r="5.5" fill="#9383c3" stroke="#7f70b4" stroke-width="0.9"/>
<circle cx="649.4" cy="914.4" r="14.3" fill="#fdfdfd" stroke="#ebebeb" stroke-width="1.5"/>
<rect x="641.2" y="906.2" width="16.4" height="16.4" fill="#d5d5db"/>
<circle cx="649.4" cy="914.4" r="7" fill="#dfe6fa"/>
<circle cx="649.4" cy="914.4" r="5.5" fill="#3b68b8" stroke="#284a94" stroke-width="0.9"/>
<text x="670.6" y="830.6" font-size="22.2" textLength="82" lengthAdjust="spacingAndGlyphs" fill="#141414" stroke="#141414" stroke-width="0.35" stroke-linejoin="round">6500k x7</text>
<text x="670.6" y="877.3" font-size="22.2" textLength="143.4" lengthAdjust="spacingAndGlyphs" fill="#141414" stroke="#141414" stroke-width="0.35" stroke-linejoin="round">450-460nm x12</text>
<text x="859.4" y="877.3" font-size="22.2" textLength="125.8" lengthAdjust="spacingAndGlyphs" fill="#141414" stroke="#141414" stroke-width="0.35" stroke-linejoin="round">410-415nm x2</text>
<text x="670.6" y="921.6" font-size="22.2" textLength="133.3" lengthAdjust="spacingAndGlyphs" fill="#141414" stroke="#141414" stroke-width="0.35" stroke-linejoin="round">460-470nm x7</text>
</g>
</svg>
</body>
</html>
